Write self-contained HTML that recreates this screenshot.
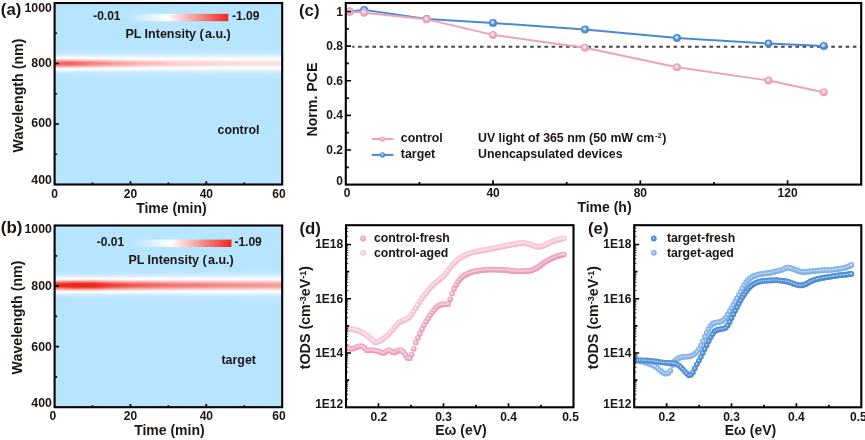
<!DOCTYPE html>
<html><head><meta charset="utf-8"><title>Figure</title>
<style>html,body{margin:0;padding:0;background:#fff}svg{display:block}text{white-space:pre}</style>
</head><body>
<svg width="865" height="440" viewBox="0 0 865 440">
<defs><linearGradient id="ga1" x1="0" x2="1" y1="0" y2="0"><stop offset="0" stop-color="#b7e4fe"/><stop offset="0.08" stop-color="#b7e4fe"/><stop offset="0.17" stop-color="#b7e4fe"/><stop offset="0.25" stop-color="#b7e4fe"/><stop offset="0.33" stop-color="#b7e4fe"/><stop offset="0.42" stop-color="#b7e4fe"/><stop offset="0.5" stop-color="#b7e4fe"/><stop offset="0.58" stop-color="#b7e4fe"/><stop offset="0.67" stop-color="#b7e4fe"/><stop offset="0.75" stop-color="#b7e4fe"/><stop offset="0.83" stop-color="#b7e4fe"/><stop offset="0.92" stop-color="#b7e4fe"/><stop offset="1" stop-color="#b7e4fe"/></linearGradient><linearGradient id="ga2" x1="0" x2="1" y1="0" y2="0"><stop offset="0" stop-color="#b7e4fe"/><stop offset="0.08" stop-color="#b7e4fe"/><stop offset="0.17" stop-color="#b7e4fe"/><stop offset="0.25" stop-color="#b7e4fe"/><stop offset="0.33" stop-color="#b7e4fe"/><stop offset="0.42" stop-color="#b7e4fe"/><stop offset="0.5" stop-color="#b7e4fe"/><stop offset="0.58" stop-color="#b7e4fe"/><stop offset="0.67" stop-color="#b7e4fe"/><stop offset="0.75" stop-color="#b7e4fe"/><stop offset="0.83" stop-color="#b7e4fe"/><stop offset="0.92" stop-color="#b7e4fe"/><stop offset="1" stop-color="#b7e4fe"/></linearGradient><linearGradient id="ga3" x1="0" x2="1" y1="0" y2="0"><stop offset="0" stop-color="#b7e4fe"/><stop offset="0.08" stop-color="#b7e4fe"/><stop offset="0.17" stop-color="#b7e4fe"/><stop offset="0.25" stop-color="#b7e4fe"/><stop offset="0.33" stop-color="#b7e4fe"/><stop offset="0.42" stop-color="#b7e4fe"/><stop offset="0.5" stop-color="#b7e4fe"/><stop offset="0.58" stop-color="#b7e4fe"/><stop offset="0.67" stop-color="#b7e4fe"/><stop offset="0.75" stop-color="#b7e4fe"/><stop offset="0.83" stop-color="#b7e4fe"/><stop offset="0.92" stop-color="#b7e4fe"/><stop offset="1" stop-color="#b7e4fe"/></linearGradient><linearGradient id="ga4" x1="0" x2="1" y1="0" y2="0"><stop offset="0" stop-color="#b7e4fe"/><stop offset="0.08" stop-color="#b7e4fe"/><stop offset="0.17" stop-color="#b7e4fe"/><stop offset="0.25" stop-color="#b7e4fe"/><stop offset="0.33" stop-color="#b7e4fe"/><stop offset="0.42" stop-color="#b7e4fe"/><stop offset="0.5" stop-color="#b7e4fe"/><stop offset="0.58" stop-color="#b7e4fe"/><stop offset="0.67" stop-color="#b7e4fe"/><stop offset="0.75" stop-color="#b7e4fe"/><stop offset="0.83" stop-color="#b7e4fe"/><stop offset="0.92" stop-color="#b7e4fe"/><stop offset="1" stop-color="#b7e4fe"/></linearGradient><linearGradient id="ga5" x1="0" x2="1" y1="0" y2="0"><stop offset="0" stop-color="#b7e4fe"/><stop offset="0.08" stop-color="#b7e4fe"/><stop offset="0.17" stop-color="#b7e4fe"/><stop offset="0.25" stop-color="#b7e4fe"/><stop offset="0.33" stop-color="#b7e4fe"/><stop offset="0.42" stop-color="#b7e4fe"/><stop offset="0.5" stop-color="#b7e4fe"/><stop offset="0.58" stop-color="#b7e4fe"/><stop offset="0.67" stop-color="#b7e4fe"/><stop offset="0.75" stop-color="#b7e4fe"/><stop offset="0.83" stop-color="#b7e4fe"/><stop offset="0.92" stop-color="#b7e4fe"/><stop offset="1" stop-color="#b7e4fe"/></linearGradient><linearGradient id="ga6" x1="0" x2="1" y1="0" y2="0"><stop offset="0" stop-color="#b7e4fe"/><stop offset="0.08" stop-color="#b7e4fe"/><stop offset="0.17" stop-color="#b7e4fe"/><stop offset="0.25" stop-color="#b7e4fe"/><stop offset="0.33" stop-color="#b7e4fe"/><stop offset="0.42" stop-color="#b7e4fe"/><stop offset="0.5" stop-color="#b7e4fe"/><stop offset="0.58" stop-color="#b7e4fe"/><stop offset="0.67" stop-color="#b7e4fe"/><stop offset="0.75" stop-color="#b7e4fe"/><stop offset="0.83" stop-color="#b7e4fe"/><stop offset="0.92" stop-color="#b8e4fe"/><stop offset="1" stop-color="#b8e4fe"/></linearGradient><linearGradient id="ga7" x1="0" x2="1" y1="0" y2="0"><stop offset="0" stop-color="#b7e4fe"/><stop offset="0.08" stop-color="#b7e4fe"/><stop offset="0.17" stop-color="#b7e4fe"/><stop offset="0.25" stop-color="#b7e4fe"/><stop offset="0.33" stop-color="#b7e4fe"/><stop offset="0.42" stop-color="#b7e4fe"/><stop offset="0.5" stop-color="#b8e4fe"/><stop offset="0.58" stop-color="#b8e4fe"/><stop offset="0.67" stop-color="#b8e4fe"/><stop offset="0.75" stop-color="#b8e4fe"/><stop offset="0.83" stop-color="#b8e4fe"/><stop offset="0.92" stop-color="#b8e4fe"/><stop offset="1" stop-color="#b8e4fe"/></linearGradient><linearGradient id="ga8" x1="0" x2="1" y1="0" y2="0"><stop offset="0" stop-color="#b7e4fe"/><stop offset="0.08" stop-color="#b8e4fe"/><stop offset="0.17" stop-color="#b8e4fe"/><stop offset="0.25" stop-color="#b8e4fe"/><stop offset="0.33" stop-color="#b8e4fe"/><stop offset="0.42" stop-color="#b8e4fe"/><stop offset="0.5" stop-color="#b8e4fe"/><stop offset="0.58" stop-color="#b8e4fe"/><stop offset="0.67" stop-color="#b8e4fe"/><stop offset="0.75" stop-color="#b8e5fe"/><stop offset="0.83" stop-color="#b9e5fe"/><stop offset="0.92" stop-color="#b9e5fe"/><stop offset="1" stop-color="#b9e5fe"/></linearGradient><linearGradient id="ga9" x1="0" x2="1" y1="0" y2="0"><stop offset="0" stop-color="#b8e4fe"/><stop offset="0.08" stop-color="#b8e4fe"/><stop offset="0.17" stop-color="#b8e4fe"/><stop offset="0.25" stop-color="#b8e5fe"/><stop offset="0.33" stop-color="#b9e5fe"/><stop offset="0.42" stop-color="#b9e5fe"/><stop offset="0.5" stop-color="#b9e5fe"/><stop offset="0.58" stop-color="#b9e5fe"/><stop offset="0.67" stop-color="#b9e5fe"/><stop offset="0.75" stop-color="#b9e5fe"/><stop offset="0.83" stop-color="#bae5fe"/><stop offset="0.92" stop-color="#bae5fe"/><stop offset="1" stop-color="#bae5fe"/></linearGradient><linearGradient id="ga10" x1="0" x2="1" y1="0" y2="0"><stop offset="0" stop-color="#b9e5fe"/><stop offset="0.08" stop-color="#b9e5fe"/><stop offset="0.17" stop-color="#bae5fe"/><stop offset="0.25" stop-color="#bae5fe"/><stop offset="0.33" stop-color="#bae5fe"/><stop offset="0.42" stop-color="#bae5fe"/><stop offset="0.5" stop-color="#bae5fe"/><stop offset="0.58" stop-color="#bae5fe"/><stop offset="0.67" stop-color="#bbe5fe"/><stop offset="0.75" stop-color="#bbe6fe"/><stop offset="0.83" stop-color="#bbe6fe"/><stop offset="0.92" stop-color="#bce6fe"/><stop offset="1" stop-color="#bce6fe"/></linearGradient><linearGradient id="ga11" x1="0" x2="1" y1="0" y2="0"><stop offset="0" stop-color="#bbe5fe"/><stop offset="0.08" stop-color="#bbe6fe"/><stop offset="0.17" stop-color="#bce6fe"/><stop offset="0.25" stop-color="#bce6fe"/><stop offset="0.33" stop-color="#bce6fe"/><stop offset="0.42" stop-color="#bce6fe"/><stop offset="0.5" stop-color="#bce6fe"/><stop offset="0.58" stop-color="#bde6fe"/><stop offset="0.67" stop-color="#bde6fe"/><stop offset="0.75" stop-color="#bee6fe"/><stop offset="0.83" stop-color="#bee7fe"/><stop offset="0.92" stop-color="#bee7fe"/><stop offset="1" stop-color="#bfe7fe"/></linearGradient><linearGradient id="ga12" x1="0" x2="1" y1="0" y2="0"><stop offset="0" stop-color="#bee7fe"/><stop offset="0.08" stop-color="#bfe7fe"/><stop offset="0.17" stop-color="#bfe7fe"/><stop offset="0.25" stop-color="#bfe7fe"/><stop offset="0.33" stop-color="#bfe7fe"/><stop offset="0.42" stop-color="#c0e7fe"/><stop offset="0.5" stop-color="#c0e7fe"/><stop offset="0.58" stop-color="#c0e7fe"/><stop offset="0.67" stop-color="#c1e8fe"/><stop offset="0.75" stop-color="#c1e8fe"/><stop offset="0.83" stop-color="#c2e8fe"/><stop offset="0.92" stop-color="#c2e8fe"/><stop offset="1" stop-color="#c3e8fe"/></linearGradient><linearGradient id="ga13" x1="0" x2="1" y1="0" y2="0"><stop offset="0" stop-color="#c3e9fe"/><stop offset="0.08" stop-color="#c4e9fe"/><stop offset="0.17" stop-color="#c4e9fe"/><stop offset="0.25" stop-color="#c4e9fe"/><stop offset="0.33" stop-color="#c5e9fe"/><stop offset="0.42" stop-color="#c5e9fe"/><stop offset="0.5" stop-color="#c5e9fe"/><stop offset="0.58" stop-color="#c5e9fe"/><stop offset="0.67" stop-color="#c6eafe"/><stop offset="0.75" stop-color="#c6eafe"/><stop offset="0.83" stop-color="#c7eafe"/><stop offset="0.92" stop-color="#c7eafe"/><stop offset="1" stop-color="#c8eafe"/></linearGradient><linearGradient id="ga14" x1="0" x2="1" y1="0" y2="0"><stop offset="0" stop-color="#cbecfe"/><stop offset="0.08" stop-color="#ccecfe"/><stop offset="0.17" stop-color="#ccecfe"/><stop offset="0.25" stop-color="#ccecfe"/><stop offset="0.33" stop-color="#ccecfe"/><stop offset="0.42" stop-color="#ccecfe"/><stop offset="0.5" stop-color="#ccecfe"/><stop offset="0.58" stop-color="#ccecfe"/><stop offset="0.67" stop-color="#cdecfe"/><stop offset="0.75" stop-color="#cdecfe"/><stop offset="0.83" stop-color="#ceecfe"/><stop offset="0.92" stop-color="#ceedfe"/><stop offset="1" stop-color="#cfedfe"/></linearGradient><linearGradient id="ga15" x1="0" x2="1" y1="0" y2="0"><stop offset="0" stop-color="#d6f0fe"/><stop offset="0.08" stop-color="#d8f0fe"/><stop offset="0.17" stop-color="#d7f0fe"/><stop offset="0.25" stop-color="#d6f0fe"/><stop offset="0.33" stop-color="#d6effe"/><stop offset="0.42" stop-color="#d5effe"/><stop offset="0.5" stop-color="#d5effe"/><stop offset="0.58" stop-color="#d5effe"/><stop offset="0.67" stop-color="#d5effe"/><stop offset="0.75" stop-color="#d6f0fe"/><stop offset="0.83" stop-color="#d6f0fe"/><stop offset="0.92" stop-color="#d7f0fe"/><stop offset="1" stop-color="#d7f0fe"/></linearGradient><linearGradient id="ga16" x1="0" x2="1" y1="0" y2="0"><stop offset="0" stop-color="#e5f5ff"/><stop offset="0.08" stop-color="#e7f6ff"/><stop offset="0.17" stop-color="#e5f5ff"/><stop offset="0.25" stop-color="#e3f5ff"/><stop offset="0.33" stop-color="#e2f4ff"/><stop offset="0.42" stop-color="#e1f4ff"/><stop offset="0.5" stop-color="#e0f3ff"/><stop offset="0.58" stop-color="#e0f3ff"/><stop offset="0.67" stop-color="#e0f3ff"/><stop offset="0.75" stop-color="#e0f3ff"/><stop offset="0.83" stop-color="#e0f4ff"/><stop offset="0.92" stop-color="#e1f4ff"/><stop offset="1" stop-color="#e1f4ff"/></linearGradient><linearGradient id="ga17" x1="0" x2="1" y1="0" y2="0"><stop offset="0" stop-color="#f7fcff"/><stop offset="0.08" stop-color="#f9fdff"/><stop offset="0.17" stop-color="#f6fcff"/><stop offset="0.25" stop-color="#f3fbff"/><stop offset="0.33" stop-color="#f1faff"/><stop offset="0.42" stop-color="#eef9ff"/><stop offset="0.5" stop-color="#edf8ff"/><stop offset="0.58" stop-color="#ecf8ff"/><stop offset="0.67" stop-color="#ecf8ff"/><stop offset="0.75" stop-color="#ecf8ff"/><stop offset="0.83" stop-color="#ecf8ff"/><stop offset="0.92" stop-color="#ecf8ff"/><stop offset="1" stop-color="#ecf8ff"/></linearGradient><linearGradient id="ga18" x1="0" x2="1" y1="0" y2="0"><stop offset="0" stop-color="#fef5f5"/><stop offset="0.08" stop-color="#fef4f4"/><stop offset="0.17" stop-color="#fef8f8"/><stop offset="0.25" stop-color="#fffcfc"/><stop offset="0.33" stop-color="#fffefe"/><stop offset="0.42" stop-color="#fdfeff"/><stop offset="0.5" stop-color="#fbfeff"/><stop offset="0.58" stop-color="#fafdff"/><stop offset="0.67" stop-color="#f9fdff"/><stop offset="0.75" stop-color="#f9fdff"/><stop offset="0.83" stop-color="#f8fcff"/><stop offset="0.92" stop-color="#f8fcff"/><stop offset="1" stop-color="#f8fcff"/></linearGradient><linearGradient id="ga19" x1="0" x2="1" y1="0" y2="0"><stop offset="0" stop-color="#fcd5d4"/><stop offset="0.08" stop-color="#fcd5d4"/><stop offset="0.17" stop-color="#fcdfde"/><stop offset="0.25" stop-color="#fde8e7"/><stop offset="0.33" stop-color="#feefef"/><stop offset="0.42" stop-color="#fef5f4"/><stop offset="0.5" stop-color="#fef8f8"/><stop offset="0.58" stop-color="#fffafa"/><stop offset="0.67" stop-color="#fffbfb"/><stop offset="0.75" stop-color="#fffcfc"/><stop offset="0.83" stop-color="#fffdfc"/><stop offset="0.92" stop-color="#fffdfd"/><stop offset="1" stop-color="#fffdfd"/></linearGradient><linearGradient id="ga20" x1="0" x2="1" y1="0" y2="0"><stop offset="0" stop-color="#f9adab"/><stop offset="0.08" stop-color="#f9aeac"/><stop offset="0.17" stop-color="#fabebd"/><stop offset="0.25" stop-color="#fbcdcc"/><stop offset="0.33" stop-color="#fcd9d8"/><stop offset="0.42" stop-color="#fde2e1"/><stop offset="0.5" stop-color="#fde8e8"/><stop offset="0.58" stop-color="#feecec"/><stop offset="0.67" stop-color="#feefee"/><stop offset="0.75" stop-color="#fef0f0"/><stop offset="0.83" stop-color="#fef2f2"/><stop offset="0.92" stop-color="#fef3f3"/><stop offset="1" stop-color="#fef4f4"/></linearGradient><linearGradient id="ga21" x1="0" x2="1" y1="0" y2="0"><stop offset="0" stop-color="#f68682"/><stop offset="0.08" stop-color="#f68985"/><stop offset="0.17" stop-color="#f79f9c"/><stop offset="0.25" stop-color="#f9b2b0"/><stop offset="0.33" stop-color="#fac2c0"/><stop offset="0.42" stop-color="#fbcfce"/><stop offset="0.5" stop-color="#fcd8d7"/><stop offset="0.58" stop-color="#fcdddd"/><stop offset="0.67" stop-color="#fde1e0"/><stop offset="0.75" stop-color="#fde4e4"/><stop offset="0.83" stop-color="#fde7e6"/><stop offset="0.92" stop-color="#fde9e8"/><stop offset="1" stop-color="#fdebea"/></linearGradient><linearGradient id="ga22" x1="0" x2="1" y1="0" y2="0"><stop offset="0" stop-color="#f36965"/><stop offset="0.08" stop-color="#f46d69"/><stop offset="0.17" stop-color="#f68884"/><stop offset="0.25" stop-color="#f79f9c"/><stop offset="0.33" stop-color="#f9b2b0"/><stop offset="0.42" stop-color="#fac2c0"/><stop offset="0.5" stop-color="#fbcccb"/><stop offset="0.58" stop-color="#fcd3d2"/><stop offset="0.67" stop-color="#fcd7d6"/><stop offset="0.75" stop-color="#fcdbda"/><stop offset="0.83" stop-color="#fcdfde"/><stop offset="0.92" stop-color="#fde1e0"/><stop offset="1" stop-color="#fde3e3"/></linearGradient><linearGradient id="ga23" x1="0" x2="1" y1="0" y2="0"><stop offset="0" stop-color="#f25f5a"/><stop offset="0.08" stop-color="#f3635f"/><stop offset="0.17" stop-color="#f57f7c"/><stop offset="0.25" stop-color="#f79895"/><stop offset="0.33" stop-color="#f8acaa"/><stop offset="0.42" stop-color="#fabdbb"/><stop offset="0.5" stop-color="#fbc8c6"/><stop offset="0.58" stop-color="#fbcfcd"/><stop offset="0.67" stop-color="#fcd4d3"/><stop offset="0.75" stop-color="#fcd8d7"/><stop offset="0.83" stop-color="#fcdbda"/><stop offset="0.92" stop-color="#fcdede"/><stop offset="1" stop-color="#fde1e0"/></linearGradient><linearGradient id="ga24" x1="0" x2="1" y1="0" y2="0"><stop offset="0" stop-color="#f36965"/><stop offset="0.08" stop-color="#f46d69"/><stop offset="0.17" stop-color="#f68884"/><stop offset="0.25" stop-color="#f79f9c"/><stop offset="0.33" stop-color="#f9b2b0"/><stop offset="0.42" stop-color="#fac2c0"/><stop offset="0.5" stop-color="#fbcccb"/><stop offset="0.58" stop-color="#fcd3d2"/><stop offset="0.67" stop-color="#fcd7d6"/><stop offset="0.75" stop-color="#fcdbda"/><stop offset="0.83" stop-color="#fcdfde"/><stop offset="0.92" stop-color="#fde1e0"/><stop offset="1" stop-color="#fde3e3"/></linearGradient><linearGradient id="ga25" x1="0" x2="1" y1="0" y2="0"><stop offset="0" stop-color="#f68682"/><stop offset="0.08" stop-color="#f68985"/><stop offset="0.17" stop-color="#f79f9c"/><stop offset="0.25" stop-color="#f9b2b0"/><stop offset="0.33" stop-color="#fac2c0"/><stop offset="0.42" stop-color="#fbcfce"/><stop offset="0.5" stop-color="#fcd8d7"/><stop offset="0.58" stop-color="#fcdddd"/><stop offset="0.67" stop-color="#fde1e0"/><stop offset="0.75" stop-color="#fde4e4"/><stop offset="0.83" stop-color="#fde7e6"/><stop offset="0.92" stop-color="#fde9e8"/><stop offset="1" stop-color="#fdebea"/></linearGradient><linearGradient id="ga26" x1="0" x2="1" y1="0" y2="0"><stop offset="0" stop-color="#f9adab"/><stop offset="0.08" stop-color="#f9aeac"/><stop offset="0.17" stop-color="#fabebd"/><stop offset="0.25" stop-color="#fbcdcc"/><stop offset="0.33" stop-color="#fcd9d8"/><stop offset="0.42" stop-color="#fde2e1"/><stop offset="0.5" stop-color="#fde8e8"/><stop offset="0.58" stop-color="#feecec"/><stop offset="0.67" stop-color="#feefee"/><stop offset="0.75" stop-color="#fef0f0"/><stop offset="0.83" stop-color="#fef2f2"/><stop offset="0.92" stop-color="#fef3f3"/><stop offset="1" stop-color="#fef4f4"/></linearGradient><linearGradient id="ga27" x1="0" x2="1" y1="0" y2="0"><stop offset="0" stop-color="#fcd5d4"/><stop offset="0.08" stop-color="#fcd5d4"/><stop offset="0.17" stop-color="#fcdfde"/><stop offset="0.25" stop-color="#fde8e7"/><stop offset="0.33" stop-color="#feefef"/><stop offset="0.42" stop-color="#fef5f4"/><stop offset="0.5" stop-color="#fef8f8"/><stop offset="0.58" stop-color="#fffafa"/><stop offset="0.67" stop-color="#fffbfb"/><stop offset="0.75" stop-color="#fffcfc"/><stop offset="0.83" stop-color="#fffdfc"/><stop offset="0.92" stop-color="#fffdfd"/><stop offset="1" stop-color="#fffdfd"/></linearGradient><linearGradient id="ga28" x1="0" x2="1" y1="0" y2="0"><stop offset="0" stop-color="#fef5f5"/><stop offset="0.08" stop-color="#fef4f4"/><stop offset="0.17" stop-color="#fef8f8"/><stop offset="0.25" stop-color="#fffcfc"/><stop offset="0.33" stop-color="#fffefe"/><stop offset="0.42" stop-color="#fdfeff"/><stop offset="0.5" stop-color="#fbfeff"/><stop offset="0.58" stop-color="#fafdff"/><stop offset="0.67" stop-color="#f9fdff"/><stop offset="0.75" stop-color="#f9fdff"/><stop offset="0.83" stop-color="#f8fcff"/><stop offset="0.92" stop-color="#f8fcff"/><stop offset="1" stop-color="#f8fcff"/></linearGradient><linearGradient id="ga29" x1="0" x2="1" y1="0" y2="0"><stop offset="0" stop-color="#f7fcff"/><stop offset="0.08" stop-color="#f9fdff"/><stop offset="0.17" stop-color="#f6fcff"/><stop offset="0.25" stop-color="#f3fbff"/><stop offset="0.33" stop-color="#f1faff"/><stop offset="0.42" stop-color="#eef9ff"/><stop offset="0.5" stop-color="#edf8ff"/><stop offset="0.58" stop-color="#ecf8ff"/><stop offset="0.67" stop-color="#ecf8ff"/><stop offset="0.75" stop-color="#ecf8ff"/><stop offset="0.83" stop-color="#ecf8ff"/><stop offset="0.92" stop-color="#ecf8ff"/><stop offset="1" stop-color="#ecf8ff"/></linearGradient><linearGradient id="ga30" x1="0" x2="1" y1="0" y2="0"><stop offset="0" stop-color="#e5f5ff"/><stop offset="0.08" stop-color="#e7f6ff"/><stop offset="0.17" stop-color="#e5f5ff"/><stop offset="0.25" stop-color="#e3f5ff"/><stop offset="0.33" stop-color="#e2f4ff"/><stop offset="0.42" stop-color="#e1f4ff"/><stop offset="0.5" stop-color="#e0f3ff"/><stop offset="0.58" stop-color="#e0f3ff"/><stop offset="0.67" stop-color="#e0f3ff"/><stop offset="0.75" stop-color="#e0f3ff"/><stop offset="0.83" stop-color="#e0f4ff"/><stop offset="0.92" stop-color="#e1f4ff"/><stop offset="1" stop-color="#e1f4ff"/></linearGradient><linearGradient id="ga31" x1="0" x2="1" y1="0" y2="0"><stop offset="0" stop-color="#d6f0fe"/><stop offset="0.08" stop-color="#d8f0fe"/><stop offset="0.17" stop-color="#d7f0fe"/><stop offset="0.25" stop-color="#d6f0fe"/><stop offset="0.33" stop-color="#d6effe"/><stop offset="0.42" stop-color="#d5effe"/><stop offset="0.5" stop-color="#d5effe"/><stop offset="0.58" stop-color="#d5effe"/><stop offset="0.67" stop-color="#d5effe"/><stop offset="0.75" stop-color="#d6f0fe"/><stop offset="0.83" stop-color="#d6f0fe"/><stop offset="0.92" stop-color="#d7f0fe"/><stop offset="1" stop-color="#d7f0fe"/></linearGradient><linearGradient id="ga32" x1="0" x2="1" y1="0" y2="0"><stop offset="0" stop-color="#cbecfe"/><stop offset="0.08" stop-color="#ccecfe"/><stop offset="0.17" stop-color="#ccecfe"/><stop offset="0.25" stop-color="#ccecfe"/><stop offset="0.33" stop-color="#ccecfe"/><stop offset="0.42" stop-color="#ccecfe"/><stop offset="0.5" stop-color="#ccecfe"/><stop offset="0.58" stop-color="#ccecfe"/><stop offset="0.67" stop-color="#cdecfe"/><stop offset="0.75" stop-color="#cdecfe"/><stop offset="0.83" stop-color="#ceecfe"/><stop offset="0.92" stop-color="#ceedfe"/><stop offset="1" stop-color="#cfedfe"/></linearGradient><linearGradient id="ga33" x1="0" x2="1" y1="0" y2="0"><stop offset="0" stop-color="#c3e9fe"/><stop offset="0.08" stop-color="#c4e9fe"/><stop offset="0.17" stop-color="#c4e9fe"/><stop offset="0.25" stop-color="#c4e9fe"/><stop offset="0.33" stop-color="#c5e9fe"/><stop offset="0.42" stop-color="#c5e9fe"/><stop offset="0.5" stop-color="#c5e9fe"/><stop offset="0.58" stop-color="#c5e9fe"/><stop offset="0.67" stop-color="#c6eafe"/><stop offset="0.75" stop-color="#c6eafe"/><stop offset="0.83" stop-color="#c7eafe"/><stop offset="0.92" stop-color="#c7eafe"/><stop offset="1" stop-color="#c8eafe"/></linearGradient><linearGradient id="ga34" x1="0" x2="1" y1="0" y2="0"><stop offset="0" stop-color="#bee7fe"/><stop offset="0.08" stop-color="#bfe7fe"/><stop offset="0.17" stop-color="#bfe7fe"/><stop offset="0.25" stop-color="#bfe7fe"/><stop offset="0.33" stop-color="#bfe7fe"/><stop offset="0.42" stop-color="#c0e7fe"/><stop offset="0.5" stop-color="#c0e7fe"/><stop offset="0.58" stop-color="#c0e7fe"/><stop offset="0.67" stop-color="#c1e8fe"/><stop offset="0.75" stop-color="#c1e8fe"/><stop offset="0.83" stop-color="#c2e8fe"/><stop offset="0.92" stop-color="#c2e8fe"/><stop offset="1" stop-color="#c3e8fe"/></linearGradient><linearGradient id="ga35" x1="0" x2="1" y1="0" y2="0"><stop offset="0" stop-color="#bbe5fe"/><stop offset="0.08" stop-color="#bbe6fe"/><stop offset="0.17" stop-color="#bce6fe"/><stop offset="0.25" stop-color="#bce6fe"/><stop offset="0.33" stop-color="#bce6fe"/><stop offset="0.42" stop-color="#bce6fe"/><stop offset="0.5" stop-color="#bce6fe"/><stop offset="0.58" stop-color="#bde6fe"/><stop offset="0.67" stop-color="#bde6fe"/><stop offset="0.75" stop-color="#bee6fe"/><stop offset="0.83" stop-color="#bee7fe"/><stop offset="0.92" stop-color="#bee7fe"/><stop offset="1" stop-color="#bfe7fe"/></linearGradient><linearGradient id="ga36" x1="0" x2="1" y1="0" y2="0"><stop offset="0" stop-color="#b9e5fe"/><stop offset="0.08" stop-color="#b9e5fe"/><stop offset="0.17" stop-color="#bae5fe"/><stop offset="0.25" stop-color="#bae5fe"/><stop offset="0.33" stop-color="#bae5fe"/><stop offset="0.42" stop-color="#bae5fe"/><stop offset="0.5" stop-color="#bae5fe"/><stop offset="0.58" stop-color="#bae5fe"/><stop offset="0.67" stop-color="#bbe5fe"/><stop offset="0.75" stop-color="#bbe6fe"/><stop offset="0.83" stop-color="#bbe6fe"/><stop offset="0.92" stop-color="#bce6fe"/><stop offset="1" stop-color="#bce6fe"/></linearGradient><linearGradient id="ga37" x1="0" x2="1" y1="0" y2="0"><stop offset="0" stop-color="#b8e4fe"/><stop offset="0.08" stop-color="#b8e4fe"/><stop offset="0.17" stop-color="#b8e4fe"/><stop offset="0.25" stop-color="#b8e5fe"/><stop offset="0.33" stop-color="#b9e5fe"/><stop offset="0.42" stop-color="#b9e5fe"/><stop offset="0.5" stop-color="#b9e5fe"/><stop offset="0.58" stop-color="#b9e5fe"/><stop offset="0.67" stop-color="#b9e5fe"/><stop offset="0.75" stop-color="#b9e5fe"/><stop offset="0.83" stop-color="#bae5fe"/><stop offset="0.92" stop-color="#bae5fe"/><stop offset="1" stop-color="#bae5fe"/></linearGradient><linearGradient id="ga38" x1="0" x2="1" y1="0" y2="0"><stop offset="0" stop-color="#b7e4fe"/><stop offset="0.08" stop-color="#b8e4fe"/><stop offset="0.17" stop-color="#b8e4fe"/><stop offset="0.25" stop-color="#b8e4fe"/><stop offset="0.33" stop-color="#b8e4fe"/><stop offset="0.42" stop-color="#b8e4fe"/><stop offset="0.5" stop-color="#b8e4fe"/><stop offset="0.58" stop-color="#b8e4fe"/><stop offset="0.67" stop-color="#b8e4fe"/><stop offset="0.75" stop-color="#b8e5fe"/><stop offset="0.83" stop-color="#b9e5fe"/><stop offset="0.92" stop-color="#b9e5fe"/><stop offset="1" stop-color="#b9e5fe"/></linearGradient><linearGradient id="ga39" x1="0" x2="1" y1="0" y2="0"><stop offset="0" stop-color="#b7e4fe"/><stop offset="0.08" stop-color="#b7e4fe"/><stop offset="0.17" stop-color="#b7e4fe"/><stop offset="0.25" stop-color="#b7e4fe"/><stop offset="0.33" stop-color="#b7e4fe"/><stop offset="0.42" stop-color="#b7e4fe"/><stop offset="0.5" stop-color="#b8e4fe"/><stop offset="0.58" stop-color="#b8e4fe"/><stop offset="0.67" stop-color="#b8e4fe"/><stop offset="0.75" stop-color="#b8e4fe"/><stop offset="0.83" stop-color="#b8e4fe"/><stop offset="0.92" stop-color="#b8e4fe"/><stop offset="1" stop-color="#b8e4fe"/></linearGradient><linearGradient id="ga40" x1="0" x2="1" y1="0" y2="0"><stop offset="0" stop-color="#b7e4fe"/><stop offset="0.08" stop-color="#b7e4fe"/><stop offset="0.17" stop-color="#b7e4fe"/><stop offset="0.25" stop-color="#b7e4fe"/><stop offset="0.33" stop-color="#b7e4fe"/><stop offset="0.42" stop-color="#b7e4fe"/><stop offset="0.5" stop-color="#b7e4fe"/><stop offset="0.58" stop-color="#b7e4fe"/><stop offset="0.67" stop-color="#b7e4fe"/><stop offset="0.75" stop-color="#b7e4fe"/><stop offset="0.83" stop-color="#b7e4fe"/><stop offset="0.92" stop-color="#b8e4fe"/><stop offset="1" stop-color="#b8e4fe"/></linearGradient><linearGradient id="ga41" x1="0" x2="1" y1="0" y2="0"><stop offset="0" stop-color="#b7e4fe"/><stop offset="0.08" stop-color="#b7e4fe"/><stop offset="0.17" stop-color="#b7e4fe"/><stop offset="0.25" stop-color="#b7e4fe"/><stop offset="0.33" stop-color="#b7e4fe"/><stop offset="0.42" stop-color="#b7e4fe"/><stop offset="0.5" stop-color="#b7e4fe"/><stop offset="0.58" stop-color="#b7e4fe"/><stop offset="0.67" stop-color="#b7e4fe"/><stop offset="0.75" stop-color="#b7e4fe"/><stop offset="0.83" stop-color="#b7e4fe"/><stop offset="0.92" stop-color="#b7e4fe"/><stop offset="1" stop-color="#b7e4fe"/></linearGradient><linearGradient id="ga42" x1="0" x2="1" y1="0" y2="0"><stop offset="0" stop-color="#b7e4fe"/><stop offset="0.08" stop-color="#b7e4fe"/><stop offset="0.17" stop-color="#b7e4fe"/><stop offset="0.25" stop-color="#b7e4fe"/><stop offset="0.33" stop-color="#b7e4fe"/><stop offset="0.42" stop-color="#b7e4fe"/><stop offset="0.5" stop-color="#b7e4fe"/><stop offset="0.58" stop-color="#b7e4fe"/><stop offset="0.67" stop-color="#b7e4fe"/><stop offset="0.75" stop-color="#b7e4fe"/><stop offset="0.83" stop-color="#b7e4fe"/><stop offset="0.92" stop-color="#b7e4fe"/><stop offset="1" stop-color="#b7e4fe"/></linearGradient><linearGradient id="ga43" x1="0" x2="1" y1="0" y2="0"><stop offset="0" stop-color="#b7e4fe"/><stop offset="0.08" stop-color="#b7e4fe"/><stop offset="0.17" stop-color="#b7e4fe"/><stop offset="0.25" stop-color="#b7e4fe"/><stop offset="0.33" stop-color="#b7e4fe"/><stop offset="0.42" stop-color="#b7e4fe"/><stop offset="0.5" stop-color="#b7e4fe"/><stop offset="0.58" stop-color="#b7e4fe"/><stop offset="0.67" stop-color="#b7e4fe"/><stop offset="0.75" stop-color="#b7e4fe"/><stop offset="0.83" stop-color="#b7e4fe"/><stop offset="0.92" stop-color="#b7e4fe"/><stop offset="1" stop-color="#b7e4fe"/></linearGradient><linearGradient id="ga44" x1="0" x2="1" y1="0" y2="0"><stop offset="0" stop-color="#b7e4fe"/><stop offset="0.08" stop-color="#b7e4fe"/><stop offset="0.17" stop-color="#b7e4fe"/><stop offset="0.25" stop-color="#b7e4fe"/><stop offset="0.33" stop-color="#b7e4fe"/><stop offset="0.42" stop-color="#b7e4fe"/><stop offset="0.5" stop-color="#b7e4fe"/><stop offset="0.58" stop-color="#b7e4fe"/><stop offset="0.67" stop-color="#b7e4fe"/><stop offset="0.75" stop-color="#b7e4fe"/><stop offset="0.83" stop-color="#b7e4fe"/><stop offset="0.92" stop-color="#b7e4fe"/><stop offset="1" stop-color="#b7e4fe"/></linearGradient><linearGradient id="ga45" x1="0" x2="1" y1="0" y2="0"><stop offset="0" stop-color="#b7e4fe"/><stop offset="0.08" stop-color="#b7e4fe"/><stop offset="0.17" stop-color="#b7e4fe"/><stop offset="0.25" stop-color="#b7e4fe"/><stop offset="0.33" stop-color="#b7e4fe"/><stop offset="0.42" stop-color="#b7e4fe"/><stop offset="0.5" stop-color="#b7e4fe"/><stop offset="0.58" stop-color="#b7e4fe"/><stop offset="0.67" stop-color="#b7e4fe"/><stop offset="0.75" stop-color="#b7e4fe"/><stop offset="0.83" stop-color="#b7e4fe"/><stop offset="0.92" stop-color="#b7e4fe"/><stop offset="1" stop-color="#b7e4fe"/></linearGradient><linearGradient id="cb46" x1="0" x2="1" y1="0" y2="0"><stop offset="0" stop-color="#b7e4fe"/><stop offset="0.05" stop-color="#c0e7fe"/><stop offset="0.39" stop-color="#ffffff"/><stop offset="0.7" stop-color="#f6918e"/><stop offset="1" stop-color="#ee2620"/></linearGradient><linearGradient id="gb47" x1="0" x2="1" y1="0" y2="0"><stop offset="0" stop-color="#b7e4fe"/><stop offset="0.08" stop-color="#b7e4fe"/><stop offset="0.17" stop-color="#b7e4fe"/><stop offset="0.25" stop-color="#b7e4fe"/><stop offset="0.33" stop-color="#b7e4fe"/><stop offset="0.42" stop-color="#b7e4fe"/><stop offset="0.5" stop-color="#b7e4fe"/><stop offset="0.58" stop-color="#b7e4fe"/><stop offset="0.67" stop-color="#b7e4fe"/><stop offset="0.75" stop-color="#b7e4fe"/><stop offset="0.83" stop-color="#b7e4fe"/><stop offset="0.92" stop-color="#b7e4fe"/><stop offset="1" stop-color="#b7e4fe"/></linearGradient><linearGradient id="gb48" x1="0" x2="1" y1="0" y2="0"><stop offset="0" stop-color="#b7e4fe"/><stop offset="0.08" stop-color="#b7e4fe"/><stop offset="0.17" stop-color="#b7e4fe"/><stop offset="0.25" stop-color="#b7e4fe"/><stop offset="0.33" stop-color="#b7e4fe"/><stop offset="0.42" stop-color="#b7e4fe"/><stop offset="0.5" stop-color="#b7e4fe"/><stop offset="0.58" stop-color="#b7e4fe"/><stop offset="0.67" stop-color="#b7e4fe"/><stop offset="0.75" stop-color="#b7e4fe"/><stop offset="0.83" stop-color="#b7e4fe"/><stop offset="0.92" stop-color="#b7e4fe"/><stop offset="1" stop-color="#b7e4fe"/></linearGradient><linearGradient id="gb49" x1="0" x2="1" y1="0" y2="0"><stop offset="0" stop-color="#b7e4fe"/><stop offset="0.08" stop-color="#b7e4fe"/><stop offset="0.17" stop-color="#b7e4fe"/><stop offset="0.25" stop-color="#b7e4fe"/><stop offset="0.33" stop-color="#b7e4fe"/><stop offset="0.42" stop-color="#b7e4fe"/><stop offset="0.5" stop-color="#b7e4fe"/><stop offset="0.58" stop-color="#b7e4fe"/><stop offset="0.67" stop-color="#b7e4fe"/><stop offset="0.75" stop-color="#b7e4fe"/><stop offset="0.83" stop-color="#b7e4fe"/><stop offset="0.92" stop-color="#b7e4fe"/><stop offset="1" stop-color="#b7e4fe"/></linearGradient><linearGradient id="gb50" x1="0" x2="1" y1="0" y2="0"><stop offset="0" stop-color="#b7e4fe"/><stop offset="0.08" stop-color="#b7e4fe"/><stop offset="0.17" stop-color="#b7e4fe"/><stop offset="0.25" stop-color="#b7e4fe"/><stop offset="0.33" stop-color="#b7e4fe"/><stop offset="0.42" stop-color="#b7e4fe"/><stop offset="0.5" stop-color="#b7e4fe"/><stop offset="0.58" stop-color="#b7e4fe"/><stop offset="0.67" stop-color="#b7e4fe"/><stop offset="0.75" stop-color="#b7e4fe"/><stop offset="0.83" stop-color="#b7e4fe"/><stop offset="0.92" stop-color="#b7e4fe"/><stop offset="1" stop-color="#b7e4fe"/></linearGradient><linearGradient id="gb51" x1="0" x2="1" y1="0" y2="0"><stop offset="0" stop-color="#b7e4fe"/><stop offset="0.08" stop-color="#b7e4fe"/><stop offset="0.17" stop-color="#b7e4fe"/><stop offset="0.25" stop-color="#b7e4fe"/><stop offset="0.33" stop-color="#b7e4fe"/><stop offset="0.42" stop-color="#b7e4fe"/><stop offset="0.5" stop-color="#b7e4fe"/><stop offset="0.58" stop-color="#b7e4fe"/><stop offset="0.67" stop-color="#b7e4fe"/><stop offset="0.75" stop-color="#b7e4fe"/><stop offset="0.83" stop-color="#b7e4fe"/><stop offset="0.92" stop-color="#b7e4fe"/><stop offset="1" stop-color="#b7e4fe"/></linearGradient><linearGradient id="gb52" x1="0" x2="1" y1="0" y2="0"><stop offset="0" stop-color="#b7e4fe"/><stop offset="0.08" stop-color="#b7e4fe"/><stop offset="0.17" stop-color="#b7e4fe"/><stop offset="0.25" stop-color="#b7e4fe"/><stop offset="0.33" stop-color="#b7e4fe"/><stop offset="0.42" stop-color="#b7e4fe"/><stop offset="0.5" stop-color="#b7e4fe"/><stop offset="0.58" stop-color="#b7e4fe"/><stop offset="0.67" stop-color="#b7e4fe"/><stop offset="0.75" stop-color="#b8e4fe"/><stop offset="0.83" stop-color="#b8e4fe"/><stop offset="0.92" stop-color="#b8e4fe"/><stop offset="1" stop-color="#b8e4fe"/></linearGradient><linearGradient id="gb53" x1="0" x2="1" y1="0" y2="0"><stop offset="0" stop-color="#b7e4fe"/><stop offset="0.08" stop-color="#b7e4fe"/><stop offset="0.17" stop-color="#b7e4fe"/><stop offset="0.25" stop-color="#b7e4fe"/><stop offset="0.33" stop-color="#b8e4fe"/><stop offset="0.42" stop-color="#b8e4fe"/><stop offset="0.5" stop-color="#b8e4fe"/><stop offset="0.58" stop-color="#b8e4fe"/><stop offset="0.67" stop-color="#b8e4fe"/><stop offset="0.75" stop-color="#b8e4fe"/><stop offset="0.83" stop-color="#b8e4fe"/><stop offset="0.92" stop-color="#b8e4fe"/><stop offset="1" stop-color="#b8e4fe"/></linearGradient><linearGradient id="gb54" x1="0" x2="1" y1="0" y2="0"><stop offset="0" stop-color="#b8e4fe"/><stop offset="0.08" stop-color="#b8e4fe"/><stop offset="0.17" stop-color="#b8e4fe"/><stop offset="0.25" stop-color="#b8e4fe"/><stop offset="0.33" stop-color="#b8e4fe"/><stop offset="0.42" stop-color="#b8e4fe"/><stop offset="0.5" stop-color="#b8e4fe"/><stop offset="0.58" stop-color="#b8e5fe"/><stop offset="0.67" stop-color="#b9e5fe"/><stop offset="0.75" stop-color="#b9e5fe"/><stop offset="0.83" stop-color="#b9e5fe"/><stop offset="0.92" stop-color="#b9e5fe"/><stop offset="1" stop-color="#b9e5fe"/></linearGradient><linearGradient id="gb55" x1="0" x2="1" y1="0" y2="0"><stop offset="0" stop-color="#b8e4fe"/><stop offset="0.08" stop-color="#b9e5fe"/><stop offset="0.17" stop-color="#b9e5fe"/><stop offset="0.25" stop-color="#b9e5fe"/><stop offset="0.33" stop-color="#b9e5fe"/><stop offset="0.42" stop-color="#b9e5fe"/><stop offset="0.5" stop-color="#b9e5fe"/><stop offset="0.58" stop-color="#bae5fe"/><stop offset="0.67" stop-color="#bae5fe"/><stop offset="0.75" stop-color="#bae5fe"/><stop offset="0.83" stop-color="#bae5fe"/><stop offset="0.92" stop-color="#bae5fe"/><stop offset="1" stop-color="#bbe5fe"/></linearGradient><linearGradient id="gb56" x1="0" x2="1" y1="0" y2="0"><stop offset="0" stop-color="#b9e5fe"/><stop offset="0.08" stop-color="#bae5fe"/><stop offset="0.17" stop-color="#bae5fe"/><stop offset="0.25" stop-color="#bae5fe"/><stop offset="0.33" stop-color="#bbe5fe"/><stop offset="0.42" stop-color="#bbe5fe"/><stop offset="0.5" stop-color="#bbe6fe"/><stop offset="0.58" stop-color="#bbe6fe"/><stop offset="0.67" stop-color="#bce6fe"/><stop offset="0.75" stop-color="#bce6fe"/><stop offset="0.83" stop-color="#bce6fe"/><stop offset="0.92" stop-color="#bde6fe"/><stop offset="1" stop-color="#bde6fe"/></linearGradient><linearGradient id="gb57" x1="0" x2="1" y1="0" y2="0"><stop offset="0" stop-color="#bbe6fe"/><stop offset="0.08" stop-color="#bce6fe"/><stop offset="0.17" stop-color="#bde6fe"/><stop offset="0.25" stop-color="#bde6fe"/><stop offset="0.33" stop-color="#bde6fe"/><stop offset="0.42" stop-color="#bde6fe"/><stop offset="0.5" stop-color="#bee7fe"/><stop offset="0.58" stop-color="#bee7fe"/><stop offset="0.67" stop-color="#bee7fe"/><stop offset="0.75" stop-color="#bfe7fe"/><stop offset="0.83" stop-color="#bfe7fe"/><stop offset="0.92" stop-color="#c0e7fe"/><stop offset="1" stop-color="#c0e7fe"/></linearGradient><linearGradient id="gb58" x1="0" x2="1" y1="0" y2="0"><stop offset="0" stop-color="#bfe7fe"/><stop offset="0.08" stop-color="#c0e7fe"/><stop offset="0.17" stop-color="#c1e8fe"/><stop offset="0.25" stop-color="#c1e8fe"/><stop offset="0.33" stop-color="#c1e8fe"/><stop offset="0.42" stop-color="#c1e8fe"/><stop offset="0.5" stop-color="#c2e8fe"/><stop offset="0.58" stop-color="#c2e8fe"/><stop offset="0.67" stop-color="#c3e8fe"/><stop offset="0.75" stop-color="#c3e9fe"/><stop offset="0.83" stop-color="#c4e9fe"/><stop offset="0.92" stop-color="#c4e9fe"/><stop offset="1" stop-color="#c5e9fe"/></linearGradient><linearGradient id="gb59" x1="0" x2="1" y1="0" y2="0"><stop offset="0" stop-color="#c4e9fe"/><stop offset="0.08" stop-color="#c6eafe"/><stop offset="0.17" stop-color="#c7eafe"/><stop offset="0.25" stop-color="#c7eafe"/><stop offset="0.33" stop-color="#c7eafe"/><stop offset="0.42" stop-color="#c7eafe"/><stop offset="0.5" stop-color="#c8eafe"/><stop offset="0.58" stop-color="#c8eafe"/><stop offset="0.67" stop-color="#c9ebfe"/><stop offset="0.75" stop-color="#c9ebfe"/><stop offset="0.83" stop-color="#caebfe"/><stop offset="0.92" stop-color="#caebfe"/><stop offset="1" stop-color="#cbecfe"/></linearGradient><linearGradient id="gb60" x1="0" x2="1" y1="0" y2="0"><stop offset="0" stop-color="#ccecfe"/><stop offset="0.08" stop-color="#cfedfe"/><stop offset="0.17" stop-color="#d0edfe"/><stop offset="0.25" stop-color="#cfedfe"/><stop offset="0.33" stop-color="#cfedfe"/><stop offset="0.42" stop-color="#cfedfe"/><stop offset="0.5" stop-color="#d0edfe"/><stop offset="0.58" stop-color="#d0edfe"/><stop offset="0.67" stop-color="#d1eefe"/><stop offset="0.75" stop-color="#d1eefe"/><stop offset="0.83" stop-color="#d2eefe"/><stop offset="0.92" stop-color="#d3eefe"/><stop offset="1" stop-color="#d3effe"/></linearGradient><linearGradient id="gb61" x1="0" x2="1" y1="0" y2="0"><stop offset="0" stop-color="#d7f0fe"/><stop offset="0.08" stop-color="#dbf1fe"/><stop offset="0.17" stop-color="#dcf2ff"/><stop offset="0.25" stop-color="#daf1fe"/><stop offset="0.33" stop-color="#daf1fe"/><stop offset="0.42" stop-color="#daf1fe"/><stop offset="0.5" stop-color="#daf1fe"/><stop offset="0.58" stop-color="#dbf1fe"/><stop offset="0.67" stop-color="#dbf2ff"/><stop offset="0.75" stop-color="#dcf2ff"/><stop offset="0.83" stop-color="#dcf2ff"/><stop offset="0.92" stop-color="#ddf2ff"/><stop offset="1" stop-color="#ddf2ff"/></linearGradient><linearGradient id="gb62" x1="0" x2="1" y1="0" y2="0"><stop offset="0" stop-color="#e5f5ff"/><stop offset="0.08" stop-color="#eaf7ff"/><stop offset="0.17" stop-color="#ecf8ff"/><stop offset="0.25" stop-color="#e9f7ff"/><stop offset="0.33" stop-color="#e8f6ff"/><stop offset="0.42" stop-color="#e8f6ff"/><stop offset="0.5" stop-color="#e7f6ff"/><stop offset="0.58" stop-color="#e8f6ff"/><stop offset="0.67" stop-color="#e8f6ff"/><stop offset="0.75" stop-color="#e8f7ff"/><stop offset="0.83" stop-color="#e9f7ff"/><stop offset="0.92" stop-color="#e9f7ff"/><stop offset="1" stop-color="#e9f7ff"/></linearGradient><linearGradient id="gb63" x1="0" x2="1" y1="0" y2="0"><stop offset="0" stop-color="#f7fcff"/><stop offset="0.08" stop-color="#feffff"/><stop offset="0.17" stop-color="#ffffff"/><stop offset="0.25" stop-color="#fbfdff"/><stop offset="0.33" stop-color="#f9fdff"/><stop offset="0.42" stop-color="#f8fcff"/><stop offset="0.5" stop-color="#f7fcff"/><stop offset="0.58" stop-color="#f7fcff"/><stop offset="0.67" stop-color="#f7fcff"/><stop offset="0.75" stop-color="#f7fcff"/><stop offset="0.83" stop-color="#f7fcff"/><stop offset="0.92" stop-color="#f7fcff"/><stop offset="1" stop-color="#f7fcff"/></linearGradient><linearGradient id="gb64" x1="0" x2="1" y1="0" y2="0"><stop offset="0" stop-color="#fef5f5"/><stop offset="0.08" stop-color="#fdeceb"/><stop offset="0.17" stop-color="#fdeaea"/><stop offset="0.25" stop-color="#fef2f2"/><stop offset="0.33" stop-color="#fef5f5"/><stop offset="0.42" stop-color="#fef7f7"/><stop offset="0.5" stop-color="#fff9f9"/><stop offset="0.58" stop-color="#fff9f9"/><stop offset="0.67" stop-color="#fffafa"/><stop offset="0.75" stop-color="#fffafa"/><stop offset="0.83" stop-color="#fffbfa"/><stop offset="0.92" stop-color="#fffbfb"/><stop offset="1" stop-color="#fffbfb"/></linearGradient><linearGradient id="gb65" x1="0" x2="1" y1="0" y2="0"><stop offset="0" stop-color="#fcd5d3"/><stop offset="0.08" stop-color="#fac4c2"/><stop offset="0.17" stop-color="#fac3c1"/><stop offset="0.25" stop-color="#fcd3d1"/><stop offset="0.33" stop-color="#fcd9d8"/><stop offset="0.42" stop-color="#fcdede"/><stop offset="0.5" stop-color="#fde2e1"/><stop offset="0.58" stop-color="#fde4e3"/><stop offset="0.67" stop-color="#fde6e5"/><stop offset="0.75" stop-color="#fde7e6"/><stop offset="0.83" stop-color="#fde8e8"/><stop offset="0.92" stop-color="#fdeae9"/><stop offset="1" stop-color="#fdebea"/></linearGradient><linearGradient id="gb66" x1="0" x2="1" y1="0" y2="0"><stop offset="0" stop-color="#f8a8a6"/><stop offset="0.08" stop-color="#f6918e"/><stop offset="0.17" stop-color="#f6918e"/><stop offset="0.25" stop-color="#f8aaa7"/><stop offset="0.33" stop-color="#f9b5b3"/><stop offset="0.42" stop-color="#fabdbc"/><stop offset="0.5" stop-color="#fac3c2"/><stop offset="0.58" stop-color="#fbc7c6"/><stop offset="0.67" stop-color="#fbcac9"/><stop offset="0.75" stop-color="#fbcdcc"/><stop offset="0.83" stop-color="#fbd0cf"/><stop offset="0.92" stop-color="#fcd3d1"/><stop offset="1" stop-color="#fcd5d4"/></linearGradient><linearGradient id="gb67" x1="0" x2="1" y1="0" y2="0"><stop offset="0" stop-color="#f47875"/><stop offset="0.08" stop-color="#f25b57"/><stop offset="0.17" stop-color="#f25d59"/><stop offset="0.25" stop-color="#f57e7b"/><stop offset="0.33" stop-color="#f68e8b"/><stop offset="0.42" stop-color="#f79b98"/><stop offset="0.5" stop-color="#f8a3a1"/><stop offset="0.58" stop-color="#f8a9a7"/><stop offset="0.67" stop-color="#f9aeac"/><stop offset="0.75" stop-color="#f9b3b0"/><stop offset="0.83" stop-color="#f9b7b5"/><stop offset="0.92" stop-color="#fabbb9"/><stop offset="1" stop-color="#fabebd"/></linearGradient><linearGradient id="gb68" x1="0" x2="1" y1="0" y2="0"><stop offset="0" stop-color="#f14e49"/><stop offset="0.08" stop-color="#ef2d27"/><stop offset="0.17" stop-color="#ef302a"/><stop offset="0.25" stop-color="#f25954"/><stop offset="0.33" stop-color="#f46d69"/><stop offset="0.42" stop-color="#f57c79"/><stop offset="0.5" stop-color="#f68884"/><stop offset="0.58" stop-color="#f6908d"/><stop offset="0.67" stop-color="#f79693"/><stop offset="0.75" stop-color="#f79c99"/><stop offset="0.83" stop-color="#f8a19f"/><stop offset="0.92" stop-color="#f8a7a4"/><stop offset="1" stop-color="#f8aba9"/></linearGradient><linearGradient id="gb69" x1="0" x2="1" y1="0" y2="0"><stop offset="0" stop-color="#ef322d"/><stop offset="0.08" stop-color="#ee2620"/><stop offset="0.17" stop-color="#ee2620"/><stop offset="0.25" stop-color="#f0413b"/><stop offset="0.33" stop-color="#f25753"/><stop offset="0.42" stop-color="#f36965"/><stop offset="0.5" stop-color="#f47672"/><stop offset="0.58" stop-color="#f57f7c"/><stop offset="0.67" stop-color="#f68683"/><stop offset="0.75" stop-color="#f68d8a"/><stop offset="0.83" stop-color="#f79491"/><stop offset="0.92" stop-color="#f79a97"/><stop offset="1" stop-color="#f79f9d"/></linearGradient><linearGradient id="gb70" x1="0" x2="1" y1="0" y2="0"><stop offset="0" stop-color="#ee2c26"/><stop offset="0.08" stop-color="#ee2620"/><stop offset="0.17" stop-color="#ee2620"/><stop offset="0.25" stop-color="#f03b35"/><stop offset="0.33" stop-color="#f1524d"/><stop offset="0.42" stop-color="#f36460"/><stop offset="0.5" stop-color="#f4716e"/><stop offset="0.58" stop-color="#f57b77"/><stop offset="0.67" stop-color="#f5837f"/><stop offset="0.75" stop-color="#f68a86"/><stop offset="0.83" stop-color="#f6908d"/><stop offset="0.92" stop-color="#f79794"/><stop offset="1" stop-color="#f79c99"/></linearGradient><linearGradient id="gb71" x1="0" x2="1" y1="0" y2="0"><stop offset="0" stop-color="#f03b36"/><stop offset="0.08" stop-color="#ee2620"/><stop offset="0.17" stop-color="#ee2620"/><stop offset="0.25" stop-color="#f14843"/><stop offset="0.33" stop-color="#f25e5a"/><stop offset="0.42" stop-color="#f46f6b"/><stop offset="0.5" stop-color="#f57b78"/><stop offset="0.58" stop-color="#f58481"/><stop offset="0.67" stop-color="#f68b88"/><stop offset="0.75" stop-color="#f6928f"/><stop offset="0.83" stop-color="#f79895"/><stop offset="0.92" stop-color="#f79e9b"/><stop offset="1" stop-color="#f8a3a0"/></linearGradient><linearGradient id="gb72" x1="0" x2="1" y1="0" y2="0"><stop offset="0" stop-color="#f25e59"/><stop offset="0.08" stop-color="#f03e39"/><stop offset="0.17" stop-color="#f0413c"/><stop offset="0.25" stop-color="#f36762"/><stop offset="0.33" stop-color="#f57976"/><stop offset="0.42" stop-color="#f68784"/><stop offset="0.5" stop-color="#f6928f"/><stop offset="0.58" stop-color="#f79996"/><stop offset="0.67" stop-color="#f79f9c"/><stop offset="0.75" stop-color="#f8a4a2"/><stop offset="0.83" stop-color="#f8a9a7"/><stop offset="0.92" stop-color="#f9aeac"/><stop offset="1" stop-color="#f9b2b0"/></linearGradient><linearGradient id="gb73" x1="0" x2="1" y1="0" y2="0"><stop offset="0" stop-color="#f68b88"/><stop offset="0.08" stop-color="#f4716d"/><stop offset="0.17" stop-color="#f4726e"/><stop offset="0.25" stop-color="#f68f8c"/><stop offset="0.33" stop-color="#f79e9b"/><stop offset="0.42" stop-color="#f8a8a6"/><stop offset="0.5" stop-color="#f9b0ae"/><stop offset="0.58" stop-color="#f9b5b3"/><stop offset="0.67" stop-color="#fab9b7"/><stop offset="0.75" stop-color="#fabdbb"/><stop offset="0.83" stop-color="#fac1bf"/><stop offset="0.92" stop-color="#fac4c3"/><stop offset="1" stop-color="#fbc7c6"/></linearGradient><linearGradient id="gb74" x1="0" x2="1" y1="0" y2="0"><stop offset="0" stop-color="#fabbb9"/><stop offset="0.08" stop-color="#f8a6a4"/><stop offset="0.17" stop-color="#f8a6a3"/><stop offset="0.25" stop-color="#fabbb9"/><stop offset="0.33" stop-color="#fac4c3"/><stop offset="0.42" stop-color="#fbcbca"/><stop offset="0.5" stop-color="#fbd0cf"/><stop offset="0.58" stop-color="#fcd3d2"/><stop offset="0.67" stop-color="#fcd6d5"/><stop offset="0.75" stop-color="#fcd8d7"/><stop offset="0.83" stop-color="#fcdad9"/><stop offset="0.92" stop-color="#fcdcdb"/><stop offset="1" stop-color="#fcdedd"/></linearGradient><linearGradient id="gb75" x1="0" x2="1" y1="0" y2="0"><stop offset="0" stop-color="#fde3e3"/><stop offset="0.08" stop-color="#fcd6d4"/><stop offset="0.17" stop-color="#fcd4d3"/><stop offset="0.25" stop-color="#fde1e0"/><stop offset="0.33" stop-color="#fde6e5"/><stop offset="0.42" stop-color="#fdeae9"/><stop offset="0.5" stop-color="#feecec"/><stop offset="0.58" stop-color="#feeeed"/><stop offset="0.67" stop-color="#feefee"/><stop offset="0.75" stop-color="#fef0ef"/><stop offset="0.83" stop-color="#fef1f0"/><stop offset="0.92" stop-color="#fef1f1"/><stop offset="1" stop-color="#fef2f2"/></linearGradient><linearGradient id="gb76" x1="0" x2="1" y1="0" y2="0"><stop offset="0" stop-color="#fffdfd"/><stop offset="0.08" stop-color="#fef7f6"/><stop offset="0.17" stop-color="#fef5f5"/><stop offset="0.25" stop-color="#fffbfb"/><stop offset="0.33" stop-color="#fffcfc"/><stop offset="0.42" stop-color="#fffefe"/><stop offset="0.5" stop-color="#fffefe"/><stop offset="0.58" stop-color="#fffefe"/><stop offset="0.67" stop-color="#fffefe"/><stop offset="0.75" stop-color="#ffffff"/><stop offset="0.83" stop-color="#ffffff"/><stop offset="0.92" stop-color="#ffffff"/><stop offset="1" stop-color="#ffffff"/></linearGradient><linearGradient id="gb77" x1="0" x2="1" y1="0" y2="0"><stop offset="0" stop-color="#f0f9ff"/><stop offset="0.08" stop-color="#f6fbff"/><stop offset="0.17" stop-color="#f7fcff"/><stop offset="0.25" stop-color="#f3fbff"/><stop offset="0.33" stop-color="#f2faff"/><stop offset="0.42" stop-color="#f1faff"/><stop offset="0.5" stop-color="#f1faff"/><stop offset="0.58" stop-color="#f1faff"/><stop offset="0.67" stop-color="#f1faff"/><stop offset="0.75" stop-color="#f1faff"/><stop offset="0.83" stop-color="#f1faff"/><stop offset="0.92" stop-color="#f1faff"/><stop offset="1" stop-color="#f1faff"/></linearGradient><linearGradient id="gb78" x1="0" x2="1" y1="0" y2="0"><stop offset="0" stop-color="#dff3ff"/><stop offset="0.08" stop-color="#e4f5ff"/><stop offset="0.17" stop-color="#e5f5ff"/><stop offset="0.25" stop-color="#e3f4ff"/><stop offset="0.33" stop-color="#e2f4ff"/><stop offset="0.42" stop-color="#e2f4ff"/><stop offset="0.5" stop-color="#e2f4ff"/><stop offset="0.58" stop-color="#e2f4ff"/><stop offset="0.67" stop-color="#e3f4ff"/><stop offset="0.75" stop-color="#e3f5ff"/><stop offset="0.83" stop-color="#e3f5ff"/><stop offset="0.92" stop-color="#e4f5ff"/><stop offset="1" stop-color="#e4f5ff"/></linearGradient><linearGradient id="gb79" x1="0" x2="1" y1="0" y2="0"><stop offset="0" stop-color="#d2eefe"/><stop offset="0.08" stop-color="#d5effe"/><stop offset="0.17" stop-color="#d7f0fe"/><stop offset="0.25" stop-color="#d5effe"/><stop offset="0.33" stop-color="#d5effe"/><stop offset="0.42" stop-color="#d5effe"/><stop offset="0.5" stop-color="#d6effe"/><stop offset="0.58" stop-color="#d6f0fe"/><stop offset="0.67" stop-color="#d7f0fe"/><stop offset="0.75" stop-color="#d7f0fe"/><stop offset="0.83" stop-color="#d8f0fe"/><stop offset="0.92" stop-color="#d8f1fe"/><stop offset="1" stop-color="#d9f1fe"/></linearGradient><linearGradient id="gb80" x1="0" x2="1" y1="0" y2="0"><stop offset="0" stop-color="#c8ebfe"/><stop offset="0.08" stop-color="#cbebfe"/><stop offset="0.17" stop-color="#ccecfe"/><stop offset="0.25" stop-color="#cbecfe"/><stop offset="0.33" stop-color="#cbecfe"/><stop offset="0.42" stop-color="#ccecfe"/><stop offset="0.5" stop-color="#ccecfe"/><stop offset="0.58" stop-color="#cdecfe"/><stop offset="0.67" stop-color="#cdecfe"/><stop offset="0.75" stop-color="#ceedfe"/><stop offset="0.83" stop-color="#ceedfe"/><stop offset="0.92" stop-color="#cfedfe"/><stop offset="1" stop-color="#d0edfe"/></linearGradient><linearGradient id="gb81" x1="0" x2="1" y1="0" y2="0"><stop offset="0" stop-color="#c2e8fe"/><stop offset="0.08" stop-color="#c3e9fe"/><stop offset="0.17" stop-color="#c4e9fe"/><stop offset="0.25" stop-color="#c4e9fe"/><stop offset="0.33" stop-color="#c4e9fe"/><stop offset="0.42" stop-color="#c5e9fe"/><stop offset="0.5" stop-color="#c5e9fe"/><stop offset="0.58" stop-color="#c6e9fe"/><stop offset="0.67" stop-color="#c6eafe"/><stop offset="0.75" stop-color="#c7eafe"/><stop offset="0.83" stop-color="#c7eafe"/><stop offset="0.92" stop-color="#c8eafe"/><stop offset="1" stop-color="#c8eafe"/></linearGradient><linearGradient id="gb82" x1="0" x2="1" y1="0" y2="0"><stop offset="0" stop-color="#bde6fe"/><stop offset="0.08" stop-color="#bee7fe"/><stop offset="0.17" stop-color="#bfe7fe"/><stop offset="0.25" stop-color="#bfe7fe"/><stop offset="0.33" stop-color="#bfe7fe"/><stop offset="0.42" stop-color="#c0e7fe"/><stop offset="0.5" stop-color="#c0e7fe"/><stop offset="0.58" stop-color="#c0e8fe"/><stop offset="0.67" stop-color="#c1e8fe"/><stop offset="0.75" stop-color="#c1e8fe"/><stop offset="0.83" stop-color="#c2e8fe"/><stop offset="0.92" stop-color="#c2e8fe"/><stop offset="1" stop-color="#c3e8fe"/></linearGradient><linearGradient id="gb83" x1="0" x2="1" y1="0" y2="0"><stop offset="0" stop-color="#bbe5fe"/><stop offset="0.08" stop-color="#bbe6fe"/><stop offset="0.17" stop-color="#bce6fe"/><stop offset="0.25" stop-color="#bce6fe"/><stop offset="0.33" stop-color="#bce6fe"/><stop offset="0.42" stop-color="#bce6fe"/><stop offset="0.5" stop-color="#bce6fe"/><stop offset="0.58" stop-color="#bde6fe"/><stop offset="0.67" stop-color="#bde6fe"/><stop offset="0.75" stop-color="#bee6fe"/><stop offset="0.83" stop-color="#bee7fe"/><stop offset="0.92" stop-color="#bee7fe"/><stop offset="1" stop-color="#bfe7fe"/></linearGradient><linearGradient id="gb84" x1="0" x2="1" y1="0" y2="0"><stop offset="0" stop-color="#b9e5fe"/><stop offset="0.08" stop-color="#b9e5fe"/><stop offset="0.17" stop-color="#bae5fe"/><stop offset="0.25" stop-color="#bae5fe"/><stop offset="0.33" stop-color="#bae5fe"/><stop offset="0.42" stop-color="#bae5fe"/><stop offset="0.5" stop-color="#bae5fe"/><stop offset="0.58" stop-color="#bae5fe"/><stop offset="0.67" stop-color="#bbe5fe"/><stop offset="0.75" stop-color="#bbe6fe"/><stop offset="0.83" stop-color="#bbe6fe"/><stop offset="0.92" stop-color="#bce6fe"/><stop offset="1" stop-color="#bce6fe"/></linearGradient><linearGradient id="gb85" x1="0" x2="1" y1="0" y2="0"><stop offset="0" stop-color="#b8e4fe"/><stop offset="0.08" stop-color="#b8e4fe"/><stop offset="0.17" stop-color="#b8e5fe"/><stop offset="0.25" stop-color="#b8e5fe"/><stop offset="0.33" stop-color="#b9e5fe"/><stop offset="0.42" stop-color="#b9e5fe"/><stop offset="0.5" stop-color="#b9e5fe"/><stop offset="0.58" stop-color="#b9e5fe"/><stop offset="0.67" stop-color="#b9e5fe"/><stop offset="0.75" stop-color="#b9e5fe"/><stop offset="0.83" stop-color="#bae5fe"/><stop offset="0.92" stop-color="#bae5fe"/><stop offset="1" stop-color="#bae5fe"/></linearGradient><linearGradient id="gb86" x1="0" x2="1" y1="0" y2="0"><stop offset="0" stop-color="#b7e4fe"/><stop offset="0.08" stop-color="#b8e4fe"/><stop offset="0.17" stop-color="#b8e4fe"/><stop offset="0.25" stop-color="#b8e4fe"/><stop offset="0.33" stop-color="#b8e4fe"/><stop offset="0.42" stop-color="#b8e4fe"/><stop offset="0.5" stop-color="#b8e4fe"/><stop offset="0.58" stop-color="#b8e4fe"/><stop offset="0.67" stop-color="#b8e4fe"/><stop offset="0.75" stop-color="#b8e5fe"/><stop offset="0.83" stop-color="#b9e5fe"/><stop offset="0.92" stop-color="#b9e5fe"/><stop offset="1" stop-color="#b9e5fe"/></linearGradient><linearGradient id="gb87" x1="0" x2="1" y1="0" y2="0"><stop offset="0" stop-color="#b7e4fe"/><stop offset="0.08" stop-color="#b7e4fe"/><stop offset="0.17" stop-color="#b7e4fe"/><stop offset="0.25" stop-color="#b7e4fe"/><stop offset="0.33" stop-color="#b7e4fe"/><stop offset="0.42" stop-color="#b7e4fe"/><stop offset="0.5" stop-color="#b8e4fe"/><stop offset="0.58" stop-color="#b8e4fe"/><stop offset="0.67" stop-color="#b8e4fe"/><stop offset="0.75" stop-color="#b8e4fe"/><stop offset="0.83" stop-color="#b8e4fe"/><stop offset="0.92" stop-color="#b8e4fe"/><stop offset="1" stop-color="#b8e4fe"/></linearGradient><linearGradient id="gb88" x1="0" x2="1" y1="0" y2="0"><stop offset="0" stop-color="#b7e4fe"/><stop offset="0.08" stop-color="#b7e4fe"/><stop offset="0.17" stop-color="#b7e4fe"/><stop offset="0.25" stop-color="#b7e4fe"/><stop offset="0.33" stop-color="#b7e4fe"/><stop offset="0.42" stop-color="#b7e4fe"/><stop offset="0.5" stop-color="#b7e4fe"/><stop offset="0.58" stop-color="#b7e4fe"/><stop offset="0.67" stop-color="#b7e4fe"/><stop offset="0.75" stop-color="#b7e4fe"/><stop offset="0.83" stop-color="#b7e4fe"/><stop offset="0.92" stop-color="#b8e4fe"/><stop offset="1" stop-color="#b8e4fe"/></linearGradient><linearGradient id="gb89" x1="0" x2="1" y1="0" y2="0"><stop offset="0" stop-color="#b7e4fe"/><stop offset="0.08" stop-color="#b7e4fe"/><stop offset="0.17" stop-color="#b7e4fe"/><stop offset="0.25" stop-color="#b7e4fe"/><stop offset="0.33" stop-color="#b7e4fe"/><stop offset="0.42" stop-color="#b7e4fe"/><stop offset="0.5" stop-color="#b7e4fe"/><stop offset="0.58" stop-color="#b7e4fe"/><stop offset="0.67" stop-color="#b7e4fe"/><stop offset="0.75" stop-color="#b7e4fe"/><stop offset="0.83" stop-color="#b7e4fe"/><stop offset="0.92" stop-color="#b7e4fe"/><stop offset="1" stop-color="#b7e4fe"/></linearGradient><linearGradient id="gb90" x1="0" x2="1" y1="0" y2="0"><stop offset="0" stop-color="#b7e4fe"/><stop offset="0.08" stop-color="#b7e4fe"/><stop offset="0.17" stop-color="#b7e4fe"/><stop offset="0.25" stop-color="#b7e4fe"/><stop offset="0.33" stop-color="#b7e4fe"/><stop offset="0.42" stop-color="#b7e4fe"/><stop offset="0.5" stop-color="#b7e4fe"/><stop offset="0.58" stop-color="#b7e4fe"/><stop offset="0.67" stop-color="#b7e4fe"/><stop offset="0.75" stop-color="#b7e4fe"/><stop offset="0.83" stop-color="#b7e4fe"/><stop offset="0.92" stop-color="#b7e4fe"/><stop offset="1" stop-color="#b7e4fe"/></linearGradient><linearGradient id="gb91" x1="0" x2="1" y1="0" y2="0"><stop offset="0" stop-color="#b7e4fe"/><stop offset="0.08" stop-color="#b7e4fe"/><stop offset="0.17" stop-color="#b7e4fe"/><stop offset="0.25" stop-color="#b7e4fe"/><stop offset="0.33" stop-color="#b7e4fe"/><stop offset="0.42" stop-color="#b7e4fe"/><stop offset="0.5" stop-color="#b7e4fe"/><stop offset="0.58" stop-color="#b7e4fe"/><stop offset="0.67" stop-color="#b7e4fe"/><stop offset="0.75" stop-color="#b7e4fe"/><stop offset="0.83" stop-color="#b7e4fe"/><stop offset="0.92" stop-color="#b7e4fe"/><stop offset="1" stop-color="#b7e4fe"/></linearGradient><linearGradient id="gb92" x1="0" x2="1" y1="0" y2="0"><stop offset="0" stop-color="#b7e4fe"/><stop offset="0.08" stop-color="#b7e4fe"/><stop offset="0.17" stop-color="#b7e4fe"/><stop offset="0.25" stop-color="#b7e4fe"/><stop offset="0.33" stop-color="#b7e4fe"/><stop offset="0.42" stop-color="#b7e4fe"/><stop offset="0.5" stop-color="#b7e4fe"/><stop offset="0.58" stop-color="#b7e4fe"/><stop offset="0.67" stop-color="#b7e4fe"/><stop offset="0.75" stop-color="#b7e4fe"/><stop offset="0.83" stop-color="#b7e4fe"/><stop offset="0.92" stop-color="#b7e4fe"/><stop offset="1" stop-color="#b7e4fe"/></linearGradient><linearGradient id="gb93" x1="0" x2="1" y1="0" y2="0"><stop offset="0" stop-color="#b7e4fe"/><stop offset="0.08" stop-color="#b7e4fe"/><stop offset="0.17" stop-color="#b7e4fe"/><stop offset="0.25" stop-color="#b7e4fe"/><stop offset="0.33" stop-color="#b7e4fe"/><stop offset="0.42" stop-color="#b7e4fe"/><stop offset="0.5" stop-color="#b7e4fe"/><stop offset="0.58" stop-color="#b7e4fe"/><stop offset="0.67" stop-color="#b7e4fe"/><stop offset="0.75" stop-color="#b7e4fe"/><stop offset="0.83" stop-color="#b7e4fe"/><stop offset="0.92" stop-color="#b7e4fe"/><stop offset="1" stop-color="#b7e4fe"/></linearGradient><linearGradient id="cb94" x1="0" x2="1" y1="0" y2="0"><stop offset="0" stop-color="#b7e4fe"/><stop offset="0.05" stop-color="#c0e7fe"/><stop offset="0.39" stop-color="#ffffff"/><stop offset="0.7" stop-color="#f6918e"/><stop offset="1" stop-color="#ee2620"/></linearGradient><radialGradient id="mp" cx="0.45" cy="0.42" r="0.58"><stop offset="0" stop-color="#fdf0f5"/><stop offset="0.2" stop-color="#fbe4ec"/><stop offset="0.55" stop-color="#eca2be"/><stop offset="1" stop-color="#eca2be"/></radialGradient><radialGradient id="mb" cx="0.45" cy="0.42" r="0.58"><stop offset="0" stop-color="#dce9f8"/><stop offset="0.2" stop-color="#c2d8f2"/><stop offset="0.55" stop-color="#4a89cf"/><stop offset="1" stop-color="#4a89cf"/></radialGradient><radialGradient id="bpf" cx="0.45" cy="0.43" r="0.56"><stop offset="0" stop-color="#fef3f7"/><stop offset="0.06" stop-color="#fef3f7"/><stop offset="0.55" stop-color="#f1a6c2"/><stop offset="1" stop-color="#ec94b6"/></radialGradient><radialGradient id="bpa" cx="0.45" cy="0.43" r="0.56"><stop offset="0" stop-color="#ffffff"/><stop offset="0.06" stop-color="#ffffff"/><stop offset="0.55" stop-color="#f7c8da"/><stop offset="1" stop-color="#f3b7ce"/></radialGradient><radialGradient id="bbf" cx="0.45" cy="0.43" r="0.56"><stop offset="0" stop-color="#dfeaf8"/><stop offset="0.08" stop-color="#dfeaf8"/><stop offset="0.36" stop-color="#5895d8"/><stop offset="1" stop-color="#4a89cf"/></radialGradient><radialGradient id="bba" cx="0.45" cy="0.43" r="0.56"><stop offset="0" stop-color="#edf4fb"/><stop offset="0.08" stop-color="#edf4fb"/><stop offset="0.36" stop-color="#8ebae8"/><stop offset="1" stop-color="#7fb0e4"/></radialGradient><clipPath id="cl346"><rect x="346" y="225.2" width="227.5" height="182.1"/></clipPath><clipPath id="cl634"><rect x="634.2" y="225.2" width="227.1" height="182.1"/></clipPath></defs>
<rect width="865" height="440" fill="#fff"/>
<g font-family='Liberation Sans, Arial, sans-serif' font-weight="bold" fill="#1d1512">
<rect x="54.6" y="3" width="227.6" height="181.5" fill="#b7e4fe"/>
<g shape-rendering="crispEdges">
<rect x="54.6" y="41" width="227.6" height="1.02" fill="url(#ga1)"/>
<rect x="54.6" y="42" width="227.6" height="1.02" fill="url(#ga2)"/>
<rect x="54.6" y="43" width="227.6" height="1.02" fill="url(#ga3)"/>
<rect x="54.6" y="44" width="227.6" height="1.02" fill="url(#ga4)"/>
<rect x="54.6" y="45" width="227.6" height="1.02" fill="url(#ga5)"/>
<rect x="54.6" y="46" width="227.6" height="1.02" fill="url(#ga6)"/>
<rect x="54.6" y="47" width="227.6" height="1.02" fill="url(#ga7)"/>
<rect x="54.6" y="48" width="227.6" height="1.02" fill="url(#ga8)"/>
<rect x="54.6" y="49" width="227.6" height="1.02" fill="url(#ga9)"/>
<rect x="54.6" y="50" width="227.6" height="1.02" fill="url(#ga10)"/>
<rect x="54.6" y="51" width="227.6" height="1.02" fill="url(#ga11)"/>
<rect x="54.6" y="52" width="227.6" height="1.02" fill="url(#ga12)"/>
<rect x="54.6" y="53" width="227.6" height="1.02" fill="url(#ga13)"/>
<rect x="54.6" y="54" width="227.6" height="1.02" fill="url(#ga14)"/>
<rect x="54.6" y="55" width="227.6" height="1.02" fill="url(#ga15)"/>
<rect x="54.6" y="56" width="227.6" height="1.02" fill="url(#ga16)"/>
<rect x="54.6" y="57" width="227.6" height="1.02" fill="url(#ga17)"/>
<rect x="54.6" y="58" width="227.6" height="1.02" fill="url(#ga18)"/>
<rect x="54.6" y="59" width="227.6" height="1.02" fill="url(#ga19)"/>
<rect x="54.6" y="60" width="227.6" height="1.02" fill="url(#ga20)"/>
<rect x="54.6" y="61" width="227.6" height="1.02" fill="url(#ga21)"/>
<rect x="54.6" y="62" width="227.6" height="1.02" fill="url(#ga22)"/>
<rect x="54.6" y="63" width="227.6" height="1.02" fill="url(#ga23)"/>
<rect x="54.6" y="64" width="227.6" height="1.02" fill="url(#ga24)"/>
<rect x="54.6" y="65" width="227.6" height="1.02" fill="url(#ga25)"/>
<rect x="54.6" y="66" width="227.6" height="1.02" fill="url(#ga26)"/>
<rect x="54.6" y="67" width="227.6" height="1.02" fill="url(#ga27)"/>
<rect x="54.6" y="68" width="227.6" height="1.02" fill="url(#ga28)"/>
<rect x="54.6" y="69" width="227.6" height="1.02" fill="url(#ga29)"/>
<rect x="54.6" y="70" width="227.6" height="1.02" fill="url(#ga30)"/>
<rect x="54.6" y="71" width="227.6" height="1.02" fill="url(#ga31)"/>
<rect x="54.6" y="72" width="227.6" height="1.02" fill="url(#ga32)"/>
<rect x="54.6" y="73" width="227.6" height="1.02" fill="url(#ga33)"/>
<rect x="54.6" y="74" width="227.6" height="1.02" fill="url(#ga34)"/>
<rect x="54.6" y="75" width="227.6" height="1.02" fill="url(#ga35)"/>
<rect x="54.6" y="76" width="227.6" height="1.02" fill="url(#ga36)"/>
<rect x="54.6" y="77" width="227.6" height="1.02" fill="url(#ga37)"/>
<rect x="54.6" y="78" width="227.6" height="1.02" fill="url(#ga38)"/>
<rect x="54.6" y="79" width="227.6" height="1.02" fill="url(#ga39)"/>
<rect x="54.6" y="80" width="227.6" height="1.02" fill="url(#ga40)"/>
<rect x="54.6" y="81" width="227.6" height="1.02" fill="url(#ga41)"/>
<rect x="54.6" y="82" width="227.6" height="1.02" fill="url(#ga42)"/>
<rect x="54.6" y="83" width="227.6" height="1.02" fill="url(#ga43)"/>
<rect x="54.6" y="84" width="227.6" height="1.02" fill="url(#ga44)"/>
<rect x="54.6" y="85" width="227.6" height="1.02" fill="url(#ga45)"/>
</g>
<rect x="128" y="13.8" width="100.3" height="7.4" fill="url(#cb46)"/>
<rect x="54.6" y="3" width="227.6" height="181.5" fill="none" stroke="#000" stroke-width="2.1"/>
<path d="M54.6 124h4.4M54.6 63.5h4.4" stroke="#000" stroke-width="1.7" fill="none"/>
<path d="M54.6 154.25h2.5M54.6 93.75h2.5M54.6 33.25h2.5" stroke="#000" stroke-width="1.7" fill="none"/>
<path d="M130.47 184.5v-3.3M206.33 184.5v-3.3" stroke="#000" stroke-width="1.7" fill="none"/>
<path d="M92.53 184.5v-2M168.4 184.5v-2M244.27 184.5v-2" stroke="#000" stroke-width="1.7" fill="none"/>
<text x="0.8" y="14.8" font-size="16.8" text-anchor="start">(a)</text>
<text x="51.9" y="12" font-size="12.3" text-anchor="end">1000</text>
<text x="51.9" y="66.6" font-size="12.3" text-anchor="end">800</text>
<text x="51.9" y="127.1" font-size="12.3" text-anchor="end">600</text>
<text x="51.9" y="183.9" font-size="12.3" text-anchor="end">400</text>
<text x="54.6" y="198" font-size="12" text-anchor="middle">0</text>
<text x="130.47" y="198" font-size="12" text-anchor="middle">20</text>
<text x="206.33" y="198" font-size="12" text-anchor="middle">40</text>
<text x="279" y="198" font-size="12" text-anchor="middle">60</text>
<text x="171.4" y="212.6" font-size="14" text-anchor="middle">Time (min)</text>
<text x="22.6" y="95.5" font-size="14.2" text-anchor="middle" transform="rotate(-90 22.6 95.5)">Wavelength (nm)</text>
<text x="120.5" y="20" font-size="12" text-anchor="end">-0.01</text>
<text x="232" y="19.6" font-size="12" text-anchor="start">-1.09</text>
<text x="125.4" y="37.5" font-size="12.5" text-anchor="start">PL Intensity ( <tspan dx="-2.1">a.u.)</tspan></text>
<text x="238.5" y="134.4" font-size="12.4" text-anchor="middle">control</text>
<rect x="54.6" y="225.5" width="227.6" height="181.7" fill="#b7e4fe"/>
<g shape-rendering="crispEdges">
<rect x="54.6" y="262" width="227.6" height="1.02" fill="url(#gb47)"/>
<rect x="54.6" y="263" width="227.6" height="1.02" fill="url(#gb48)"/>
<rect x="54.6" y="264" width="227.6" height="1.02" fill="url(#gb49)"/>
<rect x="54.6" y="265" width="227.6" height="1.02" fill="url(#gb50)"/>
<rect x="54.6" y="266" width="227.6" height="1.02" fill="url(#gb51)"/>
<rect x="54.6" y="267" width="227.6" height="1.02" fill="url(#gb52)"/>
<rect x="54.6" y="268" width="227.6" height="1.02" fill="url(#gb53)"/>
<rect x="54.6" y="269" width="227.6" height="1.02" fill="url(#gb54)"/>
<rect x="54.6" y="270" width="227.6" height="1.02" fill="url(#gb55)"/>
<rect x="54.6" y="271" width="227.6" height="1.02" fill="url(#gb56)"/>
<rect x="54.6" y="272" width="227.6" height="1.02" fill="url(#gb57)"/>
<rect x="54.6" y="273" width="227.6" height="1.02" fill="url(#gb58)"/>
<rect x="54.6" y="274" width="227.6" height="1.02" fill="url(#gb59)"/>
<rect x="54.6" y="275" width="227.6" height="1.02" fill="url(#gb60)"/>
<rect x="54.6" y="276" width="227.6" height="1.02" fill="url(#gb61)"/>
<rect x="54.6" y="277" width="227.6" height="1.02" fill="url(#gb62)"/>
<rect x="54.6" y="278" width="227.6" height="1.02" fill="url(#gb63)"/>
<rect x="54.6" y="279" width="227.6" height="1.02" fill="url(#gb64)"/>
<rect x="54.6" y="280" width="227.6" height="1.02" fill="url(#gb65)"/>
<rect x="54.6" y="281" width="227.6" height="1.02" fill="url(#gb66)"/>
<rect x="54.6" y="282" width="227.6" height="1.02" fill="url(#gb67)"/>
<rect x="54.6" y="283" width="227.6" height="1.02" fill="url(#gb68)"/>
<rect x="54.6" y="284" width="227.6" height="1.02" fill="url(#gb69)"/>
<rect x="54.6" y="285" width="227.6" height="1.02" fill="url(#gb70)"/>
<rect x="54.6" y="286" width="227.6" height="1.02" fill="url(#gb71)"/>
<rect x="54.6" y="287" width="227.6" height="1.02" fill="url(#gb72)"/>
<rect x="54.6" y="288" width="227.6" height="1.02" fill="url(#gb73)"/>
<rect x="54.6" y="289" width="227.6" height="1.02" fill="url(#gb74)"/>
<rect x="54.6" y="290" width="227.6" height="1.02" fill="url(#gb75)"/>
<rect x="54.6" y="291" width="227.6" height="1.02" fill="url(#gb76)"/>
<rect x="54.6" y="292" width="227.6" height="1.02" fill="url(#gb77)"/>
<rect x="54.6" y="293" width="227.6" height="1.02" fill="url(#gb78)"/>
<rect x="54.6" y="294" width="227.6" height="1.02" fill="url(#gb79)"/>
<rect x="54.6" y="295" width="227.6" height="1.02" fill="url(#gb80)"/>
<rect x="54.6" y="296" width="227.6" height="1.02" fill="url(#gb81)"/>
<rect x="54.6" y="297" width="227.6" height="1.02" fill="url(#gb82)"/>
<rect x="54.6" y="298" width="227.6" height="1.02" fill="url(#gb83)"/>
<rect x="54.6" y="299" width="227.6" height="1.02" fill="url(#gb84)"/>
<rect x="54.6" y="300" width="227.6" height="1.02" fill="url(#gb85)"/>
<rect x="54.6" y="301" width="227.6" height="1.02" fill="url(#gb86)"/>
<rect x="54.6" y="302" width="227.6" height="1.02" fill="url(#gb87)"/>
<rect x="54.6" y="303" width="227.6" height="1.02" fill="url(#gb88)"/>
<rect x="54.6" y="304" width="227.6" height="1.02" fill="url(#gb89)"/>
<rect x="54.6" y="305" width="227.6" height="1.02" fill="url(#gb90)"/>
<rect x="54.6" y="306" width="227.6" height="1.02" fill="url(#gb91)"/>
<rect x="54.6" y="307" width="227.6" height="1.02" fill="url(#gb92)"/>
<rect x="54.6" y="308" width="227.6" height="1.02" fill="url(#gb93)"/>
</g>
<rect x="132.5" y="239.6" width="99" height="7.4" fill="url(#cb94)"/>
<rect x="54.6" y="225.5" width="227.6" height="181.7" fill="none" stroke="#000" stroke-width="2.1"/>
<path d="M54.6 346.63h4.4M54.6 286.07h4.4" stroke="#000" stroke-width="1.7" fill="none"/>
<path d="M54.6 376.92h2.5M54.6 316.35h2.5M54.6 255.78h2.5" stroke="#000" stroke-width="1.7" fill="none"/>
<path d="M130.47 407.2v-3.3M206.33 407.2v-3.3" stroke="#000" stroke-width="1.7" fill="none"/>
<path d="M92.53 407.2v-2M168.4 407.2v-2M244.27 407.2v-2" stroke="#000" stroke-width="1.7" fill="none"/>
<text x="0.8" y="233.4" font-size="17" text-anchor="start">(b)</text>
<text x="51.9" y="232.6" font-size="12.3" text-anchor="end">1000</text>
<text x="51.9" y="289.77" font-size="12.3" text-anchor="end">800</text>
<text x="51.9" y="351.03" font-size="12.3" text-anchor="end">600</text>
<text x="51.9" y="407.4" font-size="12.3" text-anchor="end">400</text>
<text x="52.8" y="419.7" font-size="12" text-anchor="middle">0</text>
<text x="130.47" y="419.7" font-size="12" text-anchor="middle">20</text>
<text x="206.33" y="419.7" font-size="12" text-anchor="middle">40</text>
<text x="279" y="419.7" font-size="12" text-anchor="middle">60</text>
<text x="169.4" y="434.6" font-size="14" text-anchor="middle">Time (min)</text>
<text x="21.8" y="317.5" font-size="14.2" text-anchor="middle" transform="rotate(-90 21.8 317.5)">Wavelength (nm)</text>
<text x="124.2" y="246.2" font-size="12" text-anchor="end">-0.01</text>
<text x="234.4" y="246.2" font-size="12" text-anchor="start">-1.09</text>
<text x="128.4" y="264.3" font-size="12.5" text-anchor="start">PL Intensity ( <tspan dx="-2.1">a.u.)</tspan></text>
<text x="238.7" y="364" font-size="12.4" text-anchor="middle">target</text>
<path d="M352.3 46.75H861" stroke="#444" stroke-width="1.9" stroke-dasharray="3.6 3.57" stroke-dashoffset="1.4" fill="none"/>
<polyline points="349.6,11.5 364.2,9.9 426.7,19 493,23 585,29.5 677,38 768.5,43.5 823.8,46" fill="none" stroke="#4a89cf" stroke-width="1.9" stroke-linejoin="round"/>
<circle cx="349.6" cy="11.5" r="4" fill="url(#mb)"/>
<circle cx="364.2" cy="9.9" r="4" fill="url(#mb)"/>
<circle cx="426.7" cy="19" r="4" fill="url(#mb)"/>
<circle cx="493" cy="23" r="4" fill="url(#mb)"/>
<circle cx="585" cy="29.5" r="4" fill="url(#mb)"/>
<circle cx="677" cy="38" r="4" fill="url(#mb)"/>
<circle cx="768.5" cy="43.5" r="4" fill="url(#mb)"/>
<circle cx="823.8" cy="46" r="4" fill="url(#mb)"/>
<polyline points="349.6,11.6 364.2,12.7 426.7,19.3 493,34.9 585,47.8 677,67.3 768.5,80.5 823.8,92.3" fill="none" stroke="#eca2be" stroke-width="1.9" stroke-linejoin="round"/>
<circle cx="349.6" cy="11.6" r="4" fill="url(#mp)"/>
<circle cx="364.2" cy="12.7" r="4" fill="url(#mp)"/>
<circle cx="426.7" cy="19.3" r="4" fill="url(#mp)"/>
<circle cx="493" cy="34.9" r="4" fill="url(#mp)"/>
<circle cx="585" cy="47.8" r="4" fill="url(#mp)"/>
<circle cx="677" cy="67.3" r="4" fill="url(#mp)"/>
<circle cx="768.5" cy="80.5" r="4" fill="url(#mp)"/>
<circle cx="823.8" cy="92.3" r="4" fill="url(#mp)"/>
<rect x="345.8" y="3" width="515.4" height="181.6" fill="none" stroke="#000" stroke-width="2.1"/>
<path d="M345.8 149.98h5.2M345.8 115.36h5.2M345.8 80.74h5.2M345.8 46.12h5.2M345.8 11.5h5.2" stroke="#000" stroke-width="1.7" fill="none"/>
<path d="M345.8 167.29h3M345.8 132.67h3M345.8 98.05h3M345.8 63.43h3M345.8 28.81h3" stroke="#000" stroke-width="1.7" fill="none"/>
<path d="M493.06 184.6v-4.3M640.31 184.6v-4.3M787.57 184.6v-4.3" stroke="#000" stroke-width="1.7" fill="none"/>
<path d="M419.43 184.6v-2.5M566.69 184.6v-2.5M713.94 184.6v-2.5" stroke="#000" stroke-width="1.7" fill="none"/>
<text x="299" y="15.7" font-size="16.8" text-anchor="start">(c)</text>
<text x="343" y="15.6" font-size="12" text-anchor="end">1</text>
<text x="343" y="50.22" font-size="12" text-anchor="end">0.8</text>
<text x="343" y="84.84" font-size="12" text-anchor="end">0.6</text>
<text x="343" y="119.46" font-size="12" text-anchor="end">0.4</text>
<text x="343" y="154.08" font-size="12" text-anchor="end">0.2</text>
<text x="343" y="185.2" font-size="12" text-anchor="end">0</text>
<text x="347" y="197.2" font-size="12" text-anchor="middle">0</text>
<text x="493.06" y="197.2" font-size="12" text-anchor="middle">40</text>
<text x="640.31" y="197.2" font-size="12" text-anchor="middle">80</text>
<text x="787.57" y="197.2" font-size="12" text-anchor="middle">120</text>
<text x="604.5" y="212" font-size="14" text-anchor="middle">Time (h)</text>
<text x="316.6" y="99.5" font-size="14.2" text-anchor="middle" transform="rotate(-90 316.6 99.5)">Norm. PCE</text>
<path d="M371.8 139H393.4" stroke="#eca2be" stroke-width="2"/>
<circle cx="382.5" cy="139" r="2.6" fill="url(#mp)"/>
<path d="M371.8 154.9H393.4" stroke="#4a89cf" stroke-width="2"/>
<circle cx="382.5" cy="154.9" r="2.6" fill="url(#mb)"/>
<text x="400.8" y="142.2" font-size="12.4" text-anchor="start">control</text>
<text x="400.8" y="157.9" font-size="12.4" text-anchor="start">target</text>
<text x="478" y="142.2" font-size="12.35" text-anchor="start">UV light of 365 nm (50 mW cm<tspan font-size="7.5" dy="-4.2" dx="0.8">-2</tspan><tspan dy="4.2" dx="0.6">)</tspan></text>
<text x="478" y="157.7" font-size="12.4" text-anchor="start">Unencapsulated devices</text>
<g clip-path="url(#cl346)">
<g fill="url(#bpa)">
<circle cx="348.75" cy="328.75" r="2.85"/><circle cx="350.99" cy="328.97" r="2.85"/><circle cx="353.23" cy="329.38" r="2.85"/><circle cx="355.46" cy="329.93" r="2.85"/><circle cx="357.69" cy="330.55" r="2.85"/><circle cx="359.9" cy="331.41" r="2.85"/><circle cx="362.12" cy="332.52" r="2.85"/><circle cx="364.33" cy="333.79" r="2.85"/><circle cx="366.53" cy="335.3" r="2.85"/><circle cx="368.72" cy="336.92" r="2.85"/><circle cx="370.91" cy="338.65" r="2.85"/><circle cx="373.1" cy="340.49" r="2.85"/><circle cx="375.28" cy="342.32" r="2.85"/><circle cx="377.45" cy="342.18" r="2.85"/><circle cx="379.62" cy="341.21" r="2.85"/><circle cx="381.78" cy="339.93" r="2.85"/><circle cx="383.93" cy="338.34" r="2.85"/><circle cx="386.08" cy="336.59" r="2.85"/><circle cx="388.23" cy="334.55" r="2.85"/><circle cx="390.37" cy="332.3" r="2.85"/><circle cx="392.5" cy="330" r="2.85"/><circle cx="394.63" cy="327.42" r="2.85"/><circle cx="396.75" cy="324.74" r="2.85"/><circle cx="398.86" cy="322.72" r="2.85"/><circle cx="400.97" cy="321.45" r="2.85"/><circle cx="403.08" cy="320.47" r="2.85"/><circle cx="405.18" cy="319.74" r="2.85"/><circle cx="407.27" cy="318.67" r="2.85"/><circle cx="409.36" cy="317.01" r="2.85"/><circle cx="411.44" cy="314.61" r="2.85"/><circle cx="413.52" cy="311.52" r="2.85"/><circle cx="415.59" cy="308.24" r="2.85"/><circle cx="417.66" cy="304.95" r="2.85"/><circle cx="419.72" cy="301.71" r="2.85"/><circle cx="421.78" cy="298.8" r="2.85"/><circle cx="423.83" cy="296.11" r="2.85"/><circle cx="425.87" cy="293.46" r="2.85"/><circle cx="427.91" cy="290.78" r="2.85"/><circle cx="429.94" cy="288.3" r="2.85"/><circle cx="431.97" cy="286.2" r="2.85"/><circle cx="434" cy="284.33" r="2.85"/><circle cx="436.01" cy="282.56" r="2.85"/><circle cx="438.03" cy="280.92" r="2.85"/><circle cx="440.03" cy="279.29" r="2.85"/><circle cx="442.04" cy="277.47" r="2.85"/><circle cx="444.03" cy="275.52" r="2.85"/><circle cx="446.02" cy="273.33" r="2.85"/><circle cx="448.01" cy="270.61" r="2.85"/><circle cx="449.99" cy="267.75" r="2.85"/><circle cx="451.97" cy="265.39" r="2.85"/><circle cx="453.94" cy="263.32" r="2.85"/><circle cx="455.9" cy="261.48" r="2.85"/><circle cx="457.86" cy="259.84" r="2.85"/><circle cx="459.82" cy="258.36" r="2.85"/><circle cx="461.77" cy="257.08" r="2.85"/><circle cx="463.71" cy="255.94" r="2.85"/><circle cx="465.65" cy="254.96" r="2.85"/><circle cx="467.59" cy="254.11" r="2.85"/><circle cx="469.52" cy="253.37" r="2.85"/><circle cx="471.44" cy="252.76" r="2.85"/><circle cx="473.36" cy="252.26" r="2.85"/><circle cx="475.27" cy="251.82" r="2.85"/><circle cx="477.18" cy="251.42" r="2.85"/><circle cx="479.09" cy="251.05" r="2.85"/><circle cx="480.99" cy="250.7" r="2.85"/><circle cx="482.88" cy="250.36" r="2.85"/><circle cx="484.77" cy="250.06" r="2.85"/><circle cx="486.65" cy="249.75" r="2.85"/><circle cx="488.53" cy="249.41" r="2.85"/><circle cx="490.41" cy="249.04" r="2.85"/><circle cx="492.28" cy="248.65" r="2.85"/><circle cx="494.14" cy="248.25" r="2.85"/><circle cx="496" cy="247.85" r="2.85"/><circle cx="497.85" cy="247.45" r="2.85"/><circle cx="499.7" cy="247.06" r="2.85"/><circle cx="501.55" cy="246.68" r="2.85"/><circle cx="503.39" cy="246.3" r="2.85"/><circle cx="505.22" cy="245.91" r="2.85"/><circle cx="507.05" cy="245.53" r="2.85"/><circle cx="508.88" cy="245.17" r="2.85"/><circle cx="510.7" cy="244.82" r="2.85"/><circle cx="512.51" cy="244.5" r="2.85"/><circle cx="514.32" cy="244.16" r="2.85"/><circle cx="516.13" cy="243.8" r="2.85"/><circle cx="517.93" cy="243.46" r="2.85"/><circle cx="519.73" cy="243.19" r="2.85"/><circle cx="521.52" cy="243.03" r="2.85"/><circle cx="523.31" cy="243.02" r="2.85"/><circle cx="525.09" cy="243.21" r="2.85"/><circle cx="526.87" cy="243.54" r="2.85"/><circle cx="528.64" cy="243.94" r="2.85"/><circle cx="530.41" cy="244.35" r="2.85"/><circle cx="532.17" cy="245" r="2.85"/><circle cx="533.93" cy="245.79" r="2.85"/><circle cx="535.69" cy="246.46" r="2.85"/><circle cx="537.44" cy="246.75" r="2.85"/><circle cx="539.18" cy="246.68" r="2.85"/><circle cx="540.92" cy="246.51" r="2.85"/><circle cx="542.66" cy="246.04" r="2.85"/><circle cx="544.39" cy="245.26" r="2.85"/><circle cx="546.11" cy="244.52" r="2.85"/><circle cx="547.84" cy="243.7" r="2.85"/><circle cx="549.55" cy="242.84" r="2.85"/><circle cx="551.27" cy="242" r="2.85"/><circle cx="552.98" cy="241.23" r="2.85"/><circle cx="554.68" cy="240.6" r="2.85"/><circle cx="556.38" cy="240.09" r="2.85"/><circle cx="558.08" cy="239.63" r="2.85"/><circle cx="559.77" cy="239.22" r="2.85"/><circle cx="561.45" cy="238.86" r="2.85"/><circle cx="563.75" cy="238.5" r="2.85"/>
</g>
<g fill="#ffffff">
<ellipse cx="348.65" cy="328.6" rx="0.4" ry="0.72"/><ellipse cx="350.89" cy="328.82" rx="0.4" ry="0.72"/><ellipse cx="353.13" cy="329.23" rx="0.4" ry="0.72"/><ellipse cx="355.36" cy="329.78" rx="0.4" ry="0.72"/><ellipse cx="357.59" cy="330.4" rx="0.4" ry="0.72"/><ellipse cx="359.8" cy="331.26" rx="0.4" ry="0.72"/><ellipse cx="362.02" cy="332.37" rx="0.4" ry="0.72"/><ellipse cx="364.23" cy="333.64" rx="0.4" ry="0.72"/><ellipse cx="366.43" cy="335.15" rx="0.4" ry="0.72"/><ellipse cx="368.62" cy="336.77" rx="0.4" ry="0.72"/><ellipse cx="370.81" cy="338.5" rx="0.4" ry="0.72"/><ellipse cx="373" cy="340.34" rx="0.4" ry="0.72"/><ellipse cx="375.18" cy="342.17" rx="0.4" ry="0.72"/><ellipse cx="377.35" cy="342.03" rx="0.4" ry="0.72"/><ellipse cx="379.52" cy="341.06" rx="0.4" ry="0.72"/><ellipse cx="381.68" cy="339.78" rx="0.4" ry="0.72"/><ellipse cx="383.83" cy="338.19" rx="0.4" ry="0.72"/><ellipse cx="385.98" cy="336.44" rx="0.4" ry="0.72"/><ellipse cx="388.13" cy="334.4" rx="0.4" ry="0.72"/><ellipse cx="390.27" cy="332.15" rx="0.4" ry="0.72"/><ellipse cx="392.4" cy="329.85" rx="0.4" ry="0.72"/><ellipse cx="394.53" cy="327.27" rx="0.4" ry="0.72"/><ellipse cx="396.65" cy="324.59" rx="0.4" ry="0.72"/><ellipse cx="398.76" cy="322.57" rx="0.4" ry="0.72"/><ellipse cx="400.87" cy="321.3" rx="0.4" ry="0.72"/><ellipse cx="402.98" cy="320.32" rx="0.4" ry="0.72"/><ellipse cx="405.08" cy="319.59" rx="0.4" ry="0.72"/><ellipse cx="407.17" cy="318.52" rx="0.4" ry="0.72"/><ellipse cx="409.26" cy="316.86" rx="0.4" ry="0.72"/><ellipse cx="411.34" cy="314.46" rx="0.4" ry="0.72"/><ellipse cx="413.42" cy="311.37" rx="0.4" ry="0.72"/><ellipse cx="415.49" cy="308.09" rx="0.4" ry="0.72"/><ellipse cx="417.56" cy="304.8" rx="0.4" ry="0.72"/><ellipse cx="419.62" cy="301.56" rx="0.4" ry="0.72"/><ellipse cx="421.68" cy="298.65" rx="0.4" ry="0.72"/><ellipse cx="423.73" cy="295.96" rx="0.4" ry="0.72"/><ellipse cx="425.77" cy="293.31" rx="0.4" ry="0.72"/><ellipse cx="427.81" cy="290.63" rx="0.4" ry="0.72"/><ellipse cx="429.84" cy="288.15" rx="0.4" ry="0.72"/><ellipse cx="431.87" cy="286.05" rx="0.4" ry="0.72"/><ellipse cx="433.9" cy="284.18" rx="0.4" ry="0.72"/><ellipse cx="435.91" cy="282.41" rx="0.4" ry="0.72"/><ellipse cx="437.93" cy="280.77" rx="0.4" ry="0.72"/><ellipse cx="439.93" cy="279.14" rx="0.4" ry="0.72"/><ellipse cx="441.94" cy="277.32" rx="0.4" ry="0.72"/><ellipse cx="443.93" cy="275.37" rx="0.4" ry="0.72"/><ellipse cx="445.92" cy="273.18" rx="0.4" ry="0.72"/><ellipse cx="447.91" cy="270.46" rx="0.4" ry="0.72"/><ellipse cx="449.89" cy="267.6" rx="0.4" ry="0.72"/><ellipse cx="451.87" cy="265.24" rx="0.4" ry="0.72"/><ellipse cx="453.84" cy="263.17" rx="0.4" ry="0.72"/><ellipse cx="455.8" cy="261.33" rx="0.4" ry="0.72"/><ellipse cx="457.76" cy="259.69" rx="0.4" ry="0.72"/><ellipse cx="459.72" cy="258.21" rx="0.4" ry="0.72"/><ellipse cx="461.67" cy="256.93" rx="0.4" ry="0.72"/><ellipse cx="463.61" cy="255.79" rx="0.4" ry="0.72"/><ellipse cx="465.55" cy="254.81" rx="0.4" ry="0.72"/><ellipse cx="467.49" cy="253.96" rx="0.4" ry="0.72"/><ellipse cx="469.42" cy="253.22" rx="0.4" ry="0.72"/><ellipse cx="471.34" cy="252.61" rx="0.4" ry="0.72"/><ellipse cx="473.26" cy="252.11" rx="0.4" ry="0.72"/><ellipse cx="475.17" cy="251.67" rx="0.4" ry="0.72"/><ellipse cx="477.08" cy="251.27" rx="0.4" ry="0.72"/><ellipse cx="478.99" cy="250.9" rx="0.4" ry="0.72"/><ellipse cx="480.89" cy="250.55" rx="0.4" ry="0.72"/><ellipse cx="482.78" cy="250.21" rx="0.4" ry="0.72"/><ellipse cx="484.67" cy="249.91" rx="0.4" ry="0.72"/><ellipse cx="486.55" cy="249.6" rx="0.4" ry="0.72"/><ellipse cx="488.43" cy="249.26" rx="0.4" ry="0.72"/><ellipse cx="490.31" cy="248.89" rx="0.4" ry="0.72"/><ellipse cx="492.18" cy="248.5" rx="0.4" ry="0.72"/><ellipse cx="494.04" cy="248.1" rx="0.4" ry="0.72"/><ellipse cx="495.9" cy="247.7" rx="0.4" ry="0.72"/><ellipse cx="497.75" cy="247.3" rx="0.4" ry="0.72"/><ellipse cx="499.6" cy="246.91" rx="0.4" ry="0.72"/><ellipse cx="501.45" cy="246.53" rx="0.4" ry="0.72"/><ellipse cx="503.29" cy="246.15" rx="0.4" ry="0.72"/><ellipse cx="505.12" cy="245.76" rx="0.4" ry="0.72"/><ellipse cx="506.95" cy="245.38" rx="0.4" ry="0.72"/><ellipse cx="508.78" cy="245.02" rx="0.4" ry="0.72"/><ellipse cx="510.6" cy="244.67" rx="0.4" ry="0.72"/><ellipse cx="512.41" cy="244.35" rx="0.4" ry="0.72"/><ellipse cx="514.22" cy="244.01" rx="0.4" ry="0.72"/><ellipse cx="516.03" cy="243.65" rx="0.4" ry="0.72"/><ellipse cx="517.83" cy="243.31" rx="0.4" ry="0.72"/><ellipse cx="519.63" cy="243.04" rx="0.4" ry="0.72"/><ellipse cx="521.42" cy="242.88" rx="0.4" ry="0.72"/><ellipse cx="523.21" cy="242.87" rx="0.4" ry="0.72"/><ellipse cx="524.99" cy="243.06" rx="0.4" ry="0.72"/><ellipse cx="526.77" cy="243.39" rx="0.4" ry="0.72"/><ellipse cx="528.54" cy="243.79" rx="0.4" ry="0.72"/><ellipse cx="530.31" cy="244.2" rx="0.4" ry="0.72"/><ellipse cx="532.07" cy="244.85" rx="0.4" ry="0.72"/><ellipse cx="533.83" cy="245.64" rx="0.4" ry="0.72"/><ellipse cx="535.59" cy="246.31" rx="0.4" ry="0.72"/><ellipse cx="537.34" cy="246.6" rx="0.4" ry="0.72"/><ellipse cx="539.08" cy="246.53" rx="0.4" ry="0.72"/><ellipse cx="540.82" cy="246.36" rx="0.4" ry="0.72"/><ellipse cx="542.56" cy="245.89" rx="0.4" ry="0.72"/><ellipse cx="544.29" cy="245.11" rx="0.4" ry="0.72"/><ellipse cx="546.01" cy="244.37" rx="0.4" ry="0.72"/><ellipse cx="547.74" cy="243.55" rx="0.4" ry="0.72"/><ellipse cx="549.45" cy="242.69" rx="0.4" ry="0.72"/><ellipse cx="551.17" cy="241.85" rx="0.4" ry="0.72"/><ellipse cx="552.88" cy="241.08" rx="0.4" ry="0.72"/><ellipse cx="554.58" cy="240.45" rx="0.4" ry="0.72"/><ellipse cx="556.28" cy="239.94" rx="0.4" ry="0.72"/><ellipse cx="557.98" cy="239.48" rx="0.4" ry="0.72"/><ellipse cx="559.67" cy="239.07" rx="0.4" ry="0.72"/><ellipse cx="561.35" cy="238.71" rx="0.4" ry="0.72"/><ellipse cx="563.65" cy="238.35" rx="0.4" ry="0.72"/>
</g>
<g fill="url(#bpf)">
<circle cx="346.75" cy="347.5" r="2.85"/><circle cx="349" cy="348.42" r="2.85"/><circle cx="351.24" cy="348.78" r="2.85"/><circle cx="353.48" cy="348.51" r="2.85"/><circle cx="355.71" cy="347.51" r="2.85"/><circle cx="357.93" cy="346.7" r="2.85"/><circle cx="360.15" cy="346.07" r="2.85"/><circle cx="362.36" cy="346.44" r="2.85"/><circle cx="364.57" cy="347.96" r="2.85"/><circle cx="366.77" cy="350.24" r="2.85"/><circle cx="368.97" cy="350.43" r="2.85"/><circle cx="371.15" cy="350.23" r="2.85"/><circle cx="373.34" cy="350.27" r="2.85"/><circle cx="375.52" cy="350.6" r="2.85"/><circle cx="377.69" cy="351.04" r="2.85"/><circle cx="379.85" cy="351.82" r="2.85"/><circle cx="382.02" cy="352.69" r="2.85"/><circle cx="384.17" cy="352.94" r="2.85"/><circle cx="386.32" cy="351.44" r="2.85"/><circle cx="388.46" cy="350.03" r="2.85"/><circle cx="390.6" cy="350.77" r="2.85"/><circle cx="392.73" cy="352.23" r="2.85"/><circle cx="394.86" cy="352.29" r="2.85"/><circle cx="396.98" cy="351.19" r="2.85"/><circle cx="399.1" cy="350.14" r="2.85"/><circle cx="401.21" cy="350.36" r="2.85"/><circle cx="403.31" cy="352.09" r="2.85"/><circle cx="405.41" cy="354.89" r="2.85"/><circle cx="407.5" cy="357.81" r="2.85"/><circle cx="409.59" cy="358.22" r="2.85"/><circle cx="411.67" cy="354.56" r="2.85"/><circle cx="413.75" cy="348.75" r="2.85"/><circle cx="415.82" cy="342.51" r="2.85"/><circle cx="417.89" cy="337.82" r="2.85"/><circle cx="419.95" cy="333.71" r="2.85"/><circle cx="422" cy="329.07" r="2.85"/><circle cx="424.05" cy="325.05" r="2.85"/><circle cx="426.1" cy="321.5" r="2.85"/><circle cx="428.14" cy="318.41" r="2.85"/><circle cx="430.17" cy="315.33" r="2.85"/><circle cx="432.2" cy="312.47" r="2.85"/><circle cx="434.22" cy="309.9" r="2.85"/><circle cx="436.24" cy="307.51" r="2.85"/><circle cx="438.25" cy="305.9" r="2.85"/><circle cx="440.26" cy="304.92" r="2.85"/><circle cx="442.26" cy="304.4" r="2.85"/><circle cx="444.25" cy="304.25" r="2.85"/><circle cx="446.24" cy="304.29" r="2.85"/><circle cx="448.23" cy="303.99" r="2.85"/><circle cx="450.21" cy="299.26" r="2.85"/><circle cx="452.19" cy="293.52" r="2.85"/><circle cx="454.16" cy="288.68" r="2.85"/><circle cx="456.12" cy="284.93" r="2.85"/><circle cx="458.08" cy="281.86" r="2.85"/><circle cx="460.03" cy="279.34" r="2.85"/><circle cx="461.98" cy="277.22" r="2.85"/><circle cx="463.93" cy="275.72" r="2.85"/><circle cx="465.87" cy="274.67" r="2.85"/><circle cx="467.8" cy="273.61" r="2.85"/><circle cx="469.73" cy="272.7" r="2.85"/><circle cx="471.65" cy="272.08" r="2.85"/><circle cx="473.57" cy="271.56" r="2.85"/><circle cx="475.48" cy="271.14" r="2.85"/><circle cx="477.39" cy="270.82" r="2.85"/><circle cx="479.3" cy="270.55" r="2.85"/><circle cx="481.2" cy="270.29" r="2.85"/><circle cx="483.09" cy="270.05" r="2.85"/><circle cx="484.98" cy="269.85" r="2.85"/><circle cx="486.86" cy="269.71" r="2.85"/><circle cx="488.74" cy="269.62" r="2.85"/><circle cx="490.61" cy="269.6" r="2.85"/><circle cx="492.48" cy="269.61" r="2.85"/><circle cx="494.35" cy="269.64" r="2.85"/><circle cx="496.2" cy="269.68" r="2.85"/><circle cx="498.06" cy="269.74" r="2.85"/><circle cx="499.91" cy="269.8" r="2.85"/><circle cx="501.75" cy="269.87" r="2.85"/><circle cx="503.59" cy="269.94" r="2.85"/><circle cx="505.42" cy="270.02" r="2.85"/><circle cx="507.25" cy="270.17" r="2.85"/><circle cx="509.08" cy="270.39" r="2.85"/><circle cx="510.9" cy="270.64" r="2.85"/><circle cx="512.71" cy="270.89" r="2.85"/><circle cx="514.52" cy="271.09" r="2.85"/><circle cx="516.33" cy="271.22" r="2.85"/><circle cx="518.13" cy="271.25" r="2.85"/><circle cx="519.93" cy="271.23" r="2.85"/><circle cx="521.72" cy="271.19" r="2.85"/><circle cx="523.5" cy="271.13" r="2.85"/><circle cx="525.29" cy="271.05" r="2.85"/><circle cx="527.06" cy="270.96" r="2.85"/><circle cx="528.84" cy="270.84" r="2.85"/><circle cx="530.6" cy="270.67" r="2.85"/><circle cx="532.37" cy="270.17" r="2.85"/><circle cx="534.13" cy="269.37" r="2.85"/><circle cx="535.88" cy="268.41" r="2.85"/><circle cx="537.63" cy="267.43" r="2.85"/><circle cx="539.37" cy="266.28" r="2.85"/><circle cx="541.11" cy="264.91" r="2.85"/><circle cx="542.85" cy="263.52" r="2.85"/><circle cx="544.58" cy="262.26" r="2.85"/><circle cx="546.31" cy="261.23" r="2.85"/><circle cx="548.03" cy="260.25" r="2.85"/><circle cx="549.74" cy="259.33" r="2.85"/><circle cx="551.46" cy="258.49" r="2.85"/><circle cx="553.16" cy="257.72" r="2.85"/><circle cx="554.87" cy="257.05" r="2.85"/><circle cx="556.57" cy="256.45" r="2.85"/><circle cx="558.26" cy="255.89" r="2.85"/><circle cx="559.95" cy="255.39" r="2.85"/><circle cx="561.64" cy="254.95" r="2.85"/><circle cx="563.75" cy="254.5" r="2.85"/>
</g>
<g fill="#fef3f7">
<ellipse cx="346.65" cy="347.35" rx="0.4" ry="0.72"/><ellipse cx="348.9" cy="348.27" rx="0.4" ry="0.72"/><ellipse cx="351.14" cy="348.63" rx="0.4" ry="0.72"/><ellipse cx="353.38" cy="348.36" rx="0.4" ry="0.72"/><ellipse cx="355.61" cy="347.36" rx="0.4" ry="0.72"/><ellipse cx="357.83" cy="346.55" rx="0.4" ry="0.72"/><ellipse cx="360.05" cy="345.92" rx="0.4" ry="0.72"/><ellipse cx="362.26" cy="346.29" rx="0.4" ry="0.72"/><ellipse cx="364.47" cy="347.81" rx="0.4" ry="0.72"/><ellipse cx="366.67" cy="350.09" rx="0.4" ry="0.72"/><ellipse cx="368.87" cy="350.28" rx="0.4" ry="0.72"/><ellipse cx="371.05" cy="350.08" rx="0.4" ry="0.72"/><ellipse cx="373.24" cy="350.12" rx="0.4" ry="0.72"/><ellipse cx="375.42" cy="350.45" rx="0.4" ry="0.72"/><ellipse cx="377.59" cy="350.89" rx="0.4" ry="0.72"/><ellipse cx="379.75" cy="351.67" rx="0.4" ry="0.72"/><ellipse cx="381.92" cy="352.54" rx="0.4" ry="0.72"/><ellipse cx="384.07" cy="352.79" rx="0.4" ry="0.72"/><ellipse cx="386.22" cy="351.29" rx="0.4" ry="0.72"/><ellipse cx="388.36" cy="349.88" rx="0.4" ry="0.72"/><ellipse cx="390.5" cy="350.62" rx="0.4" ry="0.72"/><ellipse cx="392.63" cy="352.08" rx="0.4" ry="0.72"/><ellipse cx="394.76" cy="352.14" rx="0.4" ry="0.72"/><ellipse cx="396.88" cy="351.04" rx="0.4" ry="0.72"/><ellipse cx="399" cy="349.99" rx="0.4" ry="0.72"/><ellipse cx="401.11" cy="350.21" rx="0.4" ry="0.72"/><ellipse cx="403.21" cy="351.94" rx="0.4" ry="0.72"/><ellipse cx="405.31" cy="354.74" rx="0.4" ry="0.72"/><ellipse cx="407.4" cy="357.66" rx="0.4" ry="0.72"/><ellipse cx="409.49" cy="358.07" rx="0.4" ry="0.72"/><ellipse cx="411.57" cy="354.41" rx="0.4" ry="0.72"/><ellipse cx="413.65" cy="348.6" rx="0.4" ry="0.72"/><ellipse cx="415.72" cy="342.36" rx="0.4" ry="0.72"/><ellipse cx="417.79" cy="337.67" rx="0.4" ry="0.72"/><ellipse cx="419.85" cy="333.56" rx="0.4" ry="0.72"/><ellipse cx="421.9" cy="328.92" rx="0.4" ry="0.72"/><ellipse cx="423.95" cy="324.9" rx="0.4" ry="0.72"/><ellipse cx="426" cy="321.35" rx="0.4" ry="0.72"/><ellipse cx="428.04" cy="318.26" rx="0.4" ry="0.72"/><ellipse cx="430.07" cy="315.18" rx="0.4" ry="0.72"/><ellipse cx="432.1" cy="312.32" rx="0.4" ry="0.72"/><ellipse cx="434.12" cy="309.75" rx="0.4" ry="0.72"/><ellipse cx="436.14" cy="307.36" rx="0.4" ry="0.72"/><ellipse cx="438.15" cy="305.75" rx="0.4" ry="0.72"/><ellipse cx="440.16" cy="304.77" rx="0.4" ry="0.72"/><ellipse cx="442.16" cy="304.25" rx="0.4" ry="0.72"/><ellipse cx="444.15" cy="304.1" rx="0.4" ry="0.72"/><ellipse cx="446.14" cy="304.14" rx="0.4" ry="0.72"/><ellipse cx="448.13" cy="303.84" rx="0.4" ry="0.72"/><ellipse cx="450.11" cy="299.11" rx="0.4" ry="0.72"/><ellipse cx="452.09" cy="293.37" rx="0.4" ry="0.72"/><ellipse cx="454.06" cy="288.53" rx="0.4" ry="0.72"/><ellipse cx="456.02" cy="284.78" rx="0.4" ry="0.72"/><ellipse cx="457.98" cy="281.71" rx="0.4" ry="0.72"/><ellipse cx="459.93" cy="279.19" rx="0.4" ry="0.72"/><ellipse cx="461.88" cy="277.07" rx="0.4" ry="0.72"/><ellipse cx="463.83" cy="275.57" rx="0.4" ry="0.72"/><ellipse cx="465.77" cy="274.52" rx="0.4" ry="0.72"/><ellipse cx="467.7" cy="273.46" rx="0.4" ry="0.72"/><ellipse cx="469.63" cy="272.55" rx="0.4" ry="0.72"/><ellipse cx="471.55" cy="271.93" rx="0.4" ry="0.72"/><ellipse cx="473.47" cy="271.41" rx="0.4" ry="0.72"/><ellipse cx="475.38" cy="270.99" rx="0.4" ry="0.72"/><ellipse cx="477.29" cy="270.67" rx="0.4" ry="0.72"/><ellipse cx="479.2" cy="270.4" rx="0.4" ry="0.72"/><ellipse cx="481.1" cy="270.14" rx="0.4" ry="0.72"/><ellipse cx="482.99" cy="269.9" rx="0.4" ry="0.72"/><ellipse cx="484.88" cy="269.7" rx="0.4" ry="0.72"/><ellipse cx="486.76" cy="269.56" rx="0.4" ry="0.72"/><ellipse cx="488.64" cy="269.47" rx="0.4" ry="0.72"/><ellipse cx="490.51" cy="269.45" rx="0.4" ry="0.72"/><ellipse cx="492.38" cy="269.46" rx="0.4" ry="0.72"/><ellipse cx="494.25" cy="269.49" rx="0.4" ry="0.72"/><ellipse cx="496.1" cy="269.53" rx="0.4" ry="0.72"/><ellipse cx="497.96" cy="269.59" rx="0.4" ry="0.72"/><ellipse cx="499.81" cy="269.65" rx="0.4" ry="0.72"/><ellipse cx="501.65" cy="269.72" rx="0.4" ry="0.72"/><ellipse cx="503.49" cy="269.79" rx="0.4" ry="0.72"/><ellipse cx="505.32" cy="269.87" rx="0.4" ry="0.72"/><ellipse cx="507.15" cy="270.02" rx="0.4" ry="0.72"/><ellipse cx="508.98" cy="270.24" rx="0.4" ry="0.72"/><ellipse cx="510.8" cy="270.49" rx="0.4" ry="0.72"/><ellipse cx="512.61" cy="270.74" rx="0.4" ry="0.72"/><ellipse cx="514.42" cy="270.94" rx="0.4" ry="0.72"/><ellipse cx="516.23" cy="271.07" rx="0.4" ry="0.72"/><ellipse cx="518.03" cy="271.1" rx="0.4" ry="0.72"/><ellipse cx="519.83" cy="271.08" rx="0.4" ry="0.72"/><ellipse cx="521.62" cy="271.04" rx="0.4" ry="0.72"/><ellipse cx="523.4" cy="270.98" rx="0.4" ry="0.72"/><ellipse cx="525.19" cy="270.9" rx="0.4" ry="0.72"/><ellipse cx="526.96" cy="270.81" rx="0.4" ry="0.72"/><ellipse cx="528.74" cy="270.69" rx="0.4" ry="0.72"/><ellipse cx="530.5" cy="270.52" rx="0.4" ry="0.72"/><ellipse cx="532.27" cy="270.02" rx="0.4" ry="0.72"/><ellipse cx="534.03" cy="269.22" rx="0.4" ry="0.72"/><ellipse cx="535.78" cy="268.26" rx="0.4" ry="0.72"/><ellipse cx="537.53" cy="267.28" rx="0.4" ry="0.72"/><ellipse cx="539.27" cy="266.13" rx="0.4" ry="0.72"/><ellipse cx="541.01" cy="264.76" rx="0.4" ry="0.72"/><ellipse cx="542.75" cy="263.37" rx="0.4" ry="0.72"/><ellipse cx="544.48" cy="262.11" rx="0.4" ry="0.72"/><ellipse cx="546.21" cy="261.08" rx="0.4" ry="0.72"/><ellipse cx="547.93" cy="260.1" rx="0.4" ry="0.72"/><ellipse cx="549.64" cy="259.18" rx="0.4" ry="0.72"/><ellipse cx="551.36" cy="258.34" rx="0.4" ry="0.72"/><ellipse cx="553.06" cy="257.57" rx="0.4" ry="0.72"/><ellipse cx="554.77" cy="256.9" rx="0.4" ry="0.72"/><ellipse cx="556.47" cy="256.3" rx="0.4" ry="0.72"/><ellipse cx="558.16" cy="255.74" rx="0.4" ry="0.72"/><ellipse cx="559.85" cy="255.24" rx="0.4" ry="0.72"/><ellipse cx="561.54" cy="254.8" rx="0.4" ry="0.72"/><ellipse cx="563.65" cy="254.35" rx="0.4" ry="0.72"/>
</g>
</g>
<rect x="346" y="225.2" width="227.5" height="182.1" fill="none" stroke="#000" stroke-width="2.1"/>
<path d="M346 244.5h5M346 298.75h5M346 353h5" stroke="#000" stroke-width="1.7" fill="none"/>
<path d="M346 271.62h3.2M346 325.88h3.2M346 380.12h3.2" stroke="#000" stroke-width="1.7" fill="none"/>
<path d="M346 399.08h2.2M346 394.31h2.2M346 390.92h2.2M346 388.29h2.2M346 386.14h2.2M346 384.33h2.2M346 382.75h2.2M346 381.37h2.2M346 371.96h2.2M346 367.18h2.2M346 363.79h2.2M346 361.17h2.2M346 359.02h2.2M346 357.2h2.2M346 355.63h2.2M346 354.24h2.2M346 344.83h2.2M346 340.06h2.2M346 336.67h2.2M346 334.04h2.2M346 331.89h2.2M346 330.08h2.2M346 328.5h2.2M346 327.12h2.2M346 317.71h2.2M346 312.93h2.2M346 309.54h2.2M346 306.92h2.2M346 304.77h2.2M346 302.95h2.2M346 301.38h2.2M346 299.99h2.2M346 290.58h2.2M346 285.81h2.2M346 282.42h2.2M346 279.79h2.2M346 277.64h2.2M346 275.83h2.2M346 274.25h2.2M346 272.87h2.2M346 263.46h2.2M346 258.68h2.2M346 255.29h2.2M346 252.67h2.2M346 250.52h2.2M346 248.7h2.2M346 247.13h2.2M346 245.74h2.2M346 236.33h2.2M346 231.56h2.2M346 228.17h2.2" stroke="#000" stroke-width="0.8" fill="none"/>
<path d="M378.5 407.3v-4M443.5 407.3v-4M508.5 407.3v-4" stroke="#000" stroke-width="1.7" fill="none"/>
<path d="M411 407.3v-2.5M476 407.3v-2.5M541 407.3v-2.5" stroke="#000" stroke-width="1.7" fill="none"/>
<text x="299.5" y="233.7" font-size="16.8" text-anchor="start">(d)</text>
<text x="343.2" y="248.4" font-size="12" text-anchor="end">1E18</text>
<text x="343.2" y="302.65" font-size="12" text-anchor="end">1E16</text>
<text x="343.2" y="356.9" font-size="12" text-anchor="end">1E14</text>
<text x="343.2" y="408.15" font-size="12" text-anchor="end">1E12</text>
<text x="378.8" y="420.5" font-size="12" text-anchor="middle">0.2</text>
<text x="443.5" y="420.5" font-size="12" text-anchor="middle">0.3</text>
<text x="508.5" y="420.5" font-size="12" text-anchor="middle">0.4</text>
<text x="570.5" y="420.5" font-size="12" text-anchor="middle">0.5</text>
<text x="461.05" y="434.5" font-size="14" text-anchor="middle">Eω (eV)</text>
<text x="310.1" y="317.6" font-size="14.3" text-anchor="middle" transform="rotate(-90 310.1 317.6)">tODS (cm<tspan font-size="9" dy="-4.6">-3</tspan><tspan dy="4.6">eV</tspan><tspan font-size="9" dy="-4.6">-1</tspan><tspan dy="4.6">)</tspan></text>
<circle cx="363" cy="238.5" r="2.9" fill="url(#bpf)"/>
<text x="373.9" y="242.2" font-size="12.3" text-anchor="start">control-fresh</text>
<circle cx="363" cy="252.9" r="2.9" fill="url(#bpa)"/>
<text x="373.9" y="256.6" font-size="12.3" text-anchor="start">control-aged</text>
<g clip-path="url(#cl634)">
<g fill="url(#bba)">
<circle cx="635.5" cy="356.25" r="2.85"/><circle cx="637.74" cy="360.15" r="2.85"/><circle cx="639.98" cy="361.17" r="2.85"/><circle cx="642.21" cy="361.76" r="2.85"/><circle cx="644.42" cy="362.31" r="2.85"/><circle cx="646.63" cy="363.05" r="2.85"/><circle cx="648.83" cy="363.77" r="2.85"/><circle cx="651.02" cy="364.52" r="2.85"/><circle cx="653.2" cy="365.39" r="2.85"/><circle cx="655.37" cy="366.46" r="2.85"/><circle cx="657.53" cy="368.14" r="2.85"/><circle cx="659.68" cy="370.08" r="2.85"/><circle cx="661.82" cy="371.62" r="2.85"/><circle cx="663.96" cy="373" r="2.85"/><circle cx="666.08" cy="373.75" r="2.85"/><circle cx="668.2" cy="372.95" r="2.85"/><circle cx="670.31" cy="370.81" r="2.85"/><circle cx="672.41" cy="365.07" r="2.85"/><circle cx="674.5" cy="361.37" r="2.85"/><circle cx="676.58" cy="359.29" r="2.85"/><circle cx="678.65" cy="358.18" r="2.85"/><circle cx="680.72" cy="357.41" r="2.85"/><circle cx="682.77" cy="356.96" r="2.85"/><circle cx="684.82" cy="356.74" r="2.85"/><circle cx="686.86" cy="356.6" r="2.85"/><circle cx="688.89" cy="356.41" r="2.85"/><circle cx="690.91" cy="356.02" r="2.85"/><circle cx="692.92" cy="355.05" r="2.85"/><circle cx="694.92" cy="353.61" r="2.85"/><circle cx="696.92" cy="351.84" r="2.85"/><circle cx="698.91" cy="349.11" r="2.85"/><circle cx="700.89" cy="345.67" r="2.85"/><circle cx="702.86" cy="341.41" r="2.85"/><circle cx="704.82" cy="336.63" r="2.85"/><circle cx="706.78" cy="332.54" r="2.85"/><circle cx="708.72" cy="328.81" r="2.85"/><circle cx="710.66" cy="325.87" r="2.85"/><circle cx="712.59" cy="323.64" r="2.85"/><circle cx="714.51" cy="322.91" r="2.85"/><circle cx="716.43" cy="322.52" r="2.85"/><circle cx="718.33" cy="322.15" r="2.85"/><circle cx="720.23" cy="321.81" r="2.85"/><circle cx="722.12" cy="321.07" r="2.85"/><circle cx="724" cy="319.57" r="2.85"/><circle cx="725.88" cy="317.49" r="2.85"/><circle cx="727.74" cy="314.59" r="2.85"/><circle cx="729.6" cy="311.44" r="2.85"/><circle cx="731.45" cy="308.24" r="2.85"/><circle cx="733.3" cy="305.21" r="2.85"/><circle cx="735.13" cy="301.89" r="2.85"/><circle cx="736.96" cy="298.38" r="2.85"/><circle cx="738.78" cy="295.09" r="2.85"/><circle cx="740.59" cy="291.78" r="2.85"/><circle cx="742.4" cy="288.37" r="2.85"/><circle cx="744.19" cy="285.12" r="2.85"/><circle cx="745.98" cy="282.39" r="2.85"/><circle cx="747.77" cy="280.23" r="2.85"/><circle cx="749.54" cy="278.64" r="2.85"/><circle cx="751.31" cy="277.39" r="2.85"/><circle cx="753.07" cy="276.44" r="2.85"/><circle cx="754.82" cy="275.66" r="2.85"/><circle cx="756.57" cy="274.98" r="2.85"/><circle cx="758.31" cy="274.51" r="2.85"/><circle cx="760.04" cy="274.17" r="2.85"/><circle cx="761.76" cy="273.89" r="2.85"/><circle cx="763.48" cy="273.63" r="2.85"/><circle cx="765.19" cy="273.37" r="2.85"/><circle cx="766.89" cy="273.13" r="2.85"/><circle cx="768.58" cy="272.9" r="2.85"/><circle cx="770.27" cy="272.66" r="2.85"/><circle cx="771.95" cy="272.37" r="2.85"/><circle cx="773.63" cy="272.01" r="2.85"/><circle cx="775.29" cy="271.59" r="2.85"/><circle cx="776.95" cy="271.15" r="2.85"/><circle cx="778.6" cy="270.7" r="2.85"/><circle cx="780.25" cy="270.25" r="2.85"/><circle cx="781.89" cy="269.76" r="2.85"/><circle cx="783.52" cy="269.2" r="2.85"/><circle cx="785.15" cy="268.36" r="2.85"/><circle cx="786.77" cy="267.69" r="2.85"/><circle cx="788.38" cy="267.65" r="2.85"/><circle cx="789.98" cy="267.96" r="2.85"/><circle cx="791.58" cy="268.45" r="2.85"/><circle cx="793.17" cy="269.01" r="2.85"/><circle cx="794.76" cy="269.53" r="2.85"/><circle cx="796.34" cy="270.04" r="2.85"/><circle cx="797.91" cy="270.65" r="2.85"/><circle cx="799.47" cy="271.26" r="2.85"/><circle cx="801.03" cy="271.74" r="2.85"/><circle cx="802.58" cy="271.99" r="2.85"/><circle cx="804.13" cy="271.98" r="2.85"/><circle cx="805.67" cy="271.89" r="2.85"/><circle cx="807.2" cy="271.76" r="2.85"/><circle cx="808.73" cy="271.6" r="2.85"/><circle cx="810.25" cy="271.43" r="2.85"/><circle cx="811.76" cy="271.27" r="2.85"/><circle cx="813.27" cy="271.13" r="2.85"/><circle cx="814.77" cy="270.99" r="2.85"/><circle cx="816.26" cy="270.84" r="2.85"/><circle cx="817.75" cy="270.69" r="2.85"/><circle cx="819.23" cy="270.55" r="2.85"/><circle cx="820.71" cy="270.42" r="2.85"/><circle cx="822.18" cy="270.31" r="2.85"/><circle cx="823.64" cy="270.22" r="2.85"/><circle cx="825.1" cy="270.13" r="2.85"/><circle cx="826.55" cy="270.04" r="2.85"/><circle cx="828" cy="269.94" r="2.85"/><circle cx="829.44" cy="269.84" r="2.85"/><circle cx="830.87" cy="269.73" r="2.85"/><circle cx="832.3" cy="269.61" r="2.85"/><circle cx="833.72" cy="269.49" r="2.85"/><circle cx="835.13" cy="269.35" r="2.85"/><circle cx="836.54" cy="269.2" r="2.85"/><circle cx="837.95" cy="269.03" r="2.85"/><circle cx="839.35" cy="268.84" r="2.85"/><circle cx="840.74" cy="268.62" r="2.85"/><circle cx="842.12" cy="268.36" r="2.85"/><circle cx="843.5" cy="268.07" r="2.85"/><circle cx="844.88" cy="267.73" r="2.85"/><circle cx="846.25" cy="267.31" r="2.85"/><circle cx="847.61" cy="266.78" r="2.85"/><circle cx="848.97" cy="266.19" r="2.85"/><circle cx="850.32" cy="265.51" r="2.85"/><circle cx="851.4" cy="264.9" r="2.85"/>
</g>
<g fill="#edf4fb">
<ellipse cx="635.4" cy="356.1" rx="0.4" ry="0.72"/><ellipse cx="637.64" cy="360" rx="0.4" ry="0.72"/><ellipse cx="639.88" cy="361.02" rx="0.4" ry="0.72"/><ellipse cx="642.11" cy="361.61" rx="0.4" ry="0.72"/><ellipse cx="644.32" cy="362.16" rx="0.4" ry="0.72"/><ellipse cx="646.53" cy="362.9" rx="0.4" ry="0.72"/><ellipse cx="648.73" cy="363.62" rx="0.4" ry="0.72"/><ellipse cx="650.92" cy="364.37" rx="0.4" ry="0.72"/><ellipse cx="653.1" cy="365.24" rx="0.4" ry="0.72"/><ellipse cx="655.27" cy="366.31" rx="0.4" ry="0.72"/><ellipse cx="657.43" cy="367.99" rx="0.4" ry="0.72"/><ellipse cx="659.58" cy="369.93" rx="0.4" ry="0.72"/><ellipse cx="661.72" cy="371.47" rx="0.4" ry="0.72"/><ellipse cx="663.86" cy="372.85" rx="0.4" ry="0.72"/><ellipse cx="665.98" cy="373.6" rx="0.4" ry="0.72"/><ellipse cx="668.1" cy="372.8" rx="0.4" ry="0.72"/><ellipse cx="670.21" cy="370.66" rx="0.4" ry="0.72"/><ellipse cx="672.31" cy="364.92" rx="0.4" ry="0.72"/><ellipse cx="674.4" cy="361.22" rx="0.4" ry="0.72"/><ellipse cx="676.48" cy="359.14" rx="0.4" ry="0.72"/><ellipse cx="678.55" cy="358.03" rx="0.4" ry="0.72"/><ellipse cx="680.62" cy="357.26" rx="0.4" ry="0.72"/><ellipse cx="682.67" cy="356.81" rx="0.4" ry="0.72"/><ellipse cx="684.72" cy="356.59" rx="0.4" ry="0.72"/><ellipse cx="686.76" cy="356.45" rx="0.4" ry="0.72"/><ellipse cx="688.79" cy="356.26" rx="0.4" ry="0.72"/><ellipse cx="690.81" cy="355.87" rx="0.4" ry="0.72"/><ellipse cx="692.82" cy="354.9" rx="0.4" ry="0.72"/><ellipse cx="694.82" cy="353.46" rx="0.4" ry="0.72"/><ellipse cx="696.82" cy="351.69" rx="0.4" ry="0.72"/><ellipse cx="698.81" cy="348.96" rx="0.4" ry="0.72"/><ellipse cx="700.79" cy="345.52" rx="0.4" ry="0.72"/><ellipse cx="702.76" cy="341.26" rx="0.4" ry="0.72"/><ellipse cx="704.72" cy="336.48" rx="0.4" ry="0.72"/><ellipse cx="706.68" cy="332.39" rx="0.4" ry="0.72"/><ellipse cx="708.62" cy="328.66" rx="0.4" ry="0.72"/><ellipse cx="710.56" cy="325.72" rx="0.4" ry="0.72"/><ellipse cx="712.49" cy="323.49" rx="0.4" ry="0.72"/><ellipse cx="714.41" cy="322.76" rx="0.4" ry="0.72"/><ellipse cx="716.33" cy="322.37" rx="0.4" ry="0.72"/><ellipse cx="718.23" cy="322" rx="0.4" ry="0.72"/><ellipse cx="720.13" cy="321.66" rx="0.4" ry="0.72"/><ellipse cx="722.02" cy="320.92" rx="0.4" ry="0.72"/><ellipse cx="723.9" cy="319.42" rx="0.4" ry="0.72"/><ellipse cx="725.78" cy="317.34" rx="0.4" ry="0.72"/><ellipse cx="727.64" cy="314.44" rx="0.4" ry="0.72"/><ellipse cx="729.5" cy="311.29" rx="0.4" ry="0.72"/><ellipse cx="731.35" cy="308.09" rx="0.4" ry="0.72"/><ellipse cx="733.2" cy="305.06" rx="0.4" ry="0.72"/><ellipse cx="735.03" cy="301.74" rx="0.4" ry="0.72"/><ellipse cx="736.86" cy="298.23" rx="0.4" ry="0.72"/><ellipse cx="738.68" cy="294.94" rx="0.4" ry="0.72"/><ellipse cx="740.49" cy="291.63" rx="0.4" ry="0.72"/><ellipse cx="742.3" cy="288.22" rx="0.4" ry="0.72"/><ellipse cx="744.09" cy="284.97" rx="0.4" ry="0.72"/><ellipse cx="745.88" cy="282.24" rx="0.4" ry="0.72"/><ellipse cx="747.67" cy="280.08" rx="0.4" ry="0.72"/><ellipse cx="749.44" cy="278.49" rx="0.4" ry="0.72"/><ellipse cx="751.21" cy="277.24" rx="0.4" ry="0.72"/><ellipse cx="752.97" cy="276.29" rx="0.4" ry="0.72"/><ellipse cx="754.72" cy="275.51" rx="0.4" ry="0.72"/><ellipse cx="756.47" cy="274.83" rx="0.4" ry="0.72"/><ellipse cx="758.21" cy="274.36" rx="0.4" ry="0.72"/><ellipse cx="759.94" cy="274.02" rx="0.4" ry="0.72"/><ellipse cx="761.66" cy="273.74" rx="0.4" ry="0.72"/><ellipse cx="763.38" cy="273.48" rx="0.4" ry="0.72"/><ellipse cx="765.09" cy="273.22" rx="0.4" ry="0.72"/><ellipse cx="766.79" cy="272.98" rx="0.4" ry="0.72"/><ellipse cx="768.48" cy="272.75" rx="0.4" ry="0.72"/><ellipse cx="770.17" cy="272.51" rx="0.4" ry="0.72"/><ellipse cx="771.85" cy="272.22" rx="0.4" ry="0.72"/><ellipse cx="773.53" cy="271.86" rx="0.4" ry="0.72"/><ellipse cx="775.19" cy="271.44" rx="0.4" ry="0.72"/><ellipse cx="776.85" cy="271" rx="0.4" ry="0.72"/><ellipse cx="778.5" cy="270.55" rx="0.4" ry="0.72"/><ellipse cx="780.15" cy="270.1" rx="0.4" ry="0.72"/><ellipse cx="781.79" cy="269.61" rx="0.4" ry="0.72"/><ellipse cx="783.42" cy="269.05" rx="0.4" ry="0.72"/><ellipse cx="785.05" cy="268.21" rx="0.4" ry="0.72"/><ellipse cx="786.67" cy="267.54" rx="0.4" ry="0.72"/><ellipse cx="788.28" cy="267.5" rx="0.4" ry="0.72"/><ellipse cx="789.88" cy="267.81" rx="0.4" ry="0.72"/><ellipse cx="791.48" cy="268.3" rx="0.4" ry="0.72"/><ellipse cx="793.07" cy="268.86" rx="0.4" ry="0.72"/><ellipse cx="794.66" cy="269.38" rx="0.4" ry="0.72"/><ellipse cx="796.24" cy="269.89" rx="0.4" ry="0.72"/><ellipse cx="797.81" cy="270.5" rx="0.4" ry="0.72"/><ellipse cx="799.37" cy="271.11" rx="0.4" ry="0.72"/><ellipse cx="800.93" cy="271.59" rx="0.4" ry="0.72"/><ellipse cx="802.48" cy="271.84" rx="0.4" ry="0.72"/><ellipse cx="804.03" cy="271.83" rx="0.4" ry="0.72"/><ellipse cx="805.57" cy="271.74" rx="0.4" ry="0.72"/><ellipse cx="807.1" cy="271.61" rx="0.4" ry="0.72"/><ellipse cx="808.63" cy="271.45" rx="0.4" ry="0.72"/><ellipse cx="810.15" cy="271.28" rx="0.4" ry="0.72"/><ellipse cx="811.66" cy="271.12" rx="0.4" ry="0.72"/><ellipse cx="813.17" cy="270.98" rx="0.4" ry="0.72"/><ellipse cx="814.67" cy="270.84" rx="0.4" ry="0.72"/><ellipse cx="816.16" cy="270.69" rx="0.4" ry="0.72"/><ellipse cx="817.65" cy="270.54" rx="0.4" ry="0.72"/><ellipse cx="819.13" cy="270.4" rx="0.4" ry="0.72"/><ellipse cx="820.61" cy="270.27" rx="0.4" ry="0.72"/><ellipse cx="822.08" cy="270.16" rx="0.4" ry="0.72"/><ellipse cx="823.54" cy="270.07" rx="0.4" ry="0.72"/><ellipse cx="825" cy="269.98" rx="0.4" ry="0.72"/><ellipse cx="826.45" cy="269.89" rx="0.4" ry="0.72"/><ellipse cx="827.9" cy="269.79" rx="0.4" ry="0.72"/><ellipse cx="829.34" cy="269.69" rx="0.4" ry="0.72"/><ellipse cx="830.77" cy="269.58" rx="0.4" ry="0.72"/><ellipse cx="832.2" cy="269.46" rx="0.4" ry="0.72"/><ellipse cx="833.62" cy="269.34" rx="0.4" ry="0.72"/><ellipse cx="835.03" cy="269.2" rx="0.4" ry="0.72"/><ellipse cx="836.44" cy="269.05" rx="0.4" ry="0.72"/><ellipse cx="837.85" cy="268.88" rx="0.4" ry="0.72"/><ellipse cx="839.25" cy="268.69" rx="0.4" ry="0.72"/><ellipse cx="840.64" cy="268.47" rx="0.4" ry="0.72"/><ellipse cx="842.02" cy="268.21" rx="0.4" ry="0.72"/><ellipse cx="843.4" cy="267.92" rx="0.4" ry="0.72"/><ellipse cx="844.78" cy="267.58" rx="0.4" ry="0.72"/><ellipse cx="846.15" cy="267.16" rx="0.4" ry="0.72"/><ellipse cx="847.51" cy="266.63" rx="0.4" ry="0.72"/><ellipse cx="848.87" cy="266.04" rx="0.4" ry="0.72"/><ellipse cx="850.22" cy="265.36" rx="0.4" ry="0.72"/><ellipse cx="851.3" cy="264.75" rx="0.4" ry="0.72"/>
</g>
<g fill="url(#bbf)">
<circle cx="635.5" cy="360.4" r="2.85"/><circle cx="637.74" cy="360.4" r="2.85"/><circle cx="639.98" cy="360.4" r="2.85"/><circle cx="642.21" cy="360.4" r="2.85"/><circle cx="644.42" cy="360.4" r="2.85"/><circle cx="646.63" cy="360.45" r="2.85"/><circle cx="648.83" cy="360.63" r="2.85"/><circle cx="651.02" cy="360.89" r="2.85"/><circle cx="653.2" cy="361.18" r="2.85"/><circle cx="655.37" cy="361.44" r="2.85"/><circle cx="657.53" cy="361.72" r="2.85"/><circle cx="659.68" cy="362.02" r="2.85"/><circle cx="661.82" cy="362.32" r="2.85"/><circle cx="663.96" cy="362.59" r="2.85"/><circle cx="666.08" cy="362.8" r="2.85"/><circle cx="668.2" cy="362.93" r="2.85"/><circle cx="670.31" cy="363.05" r="2.85"/><circle cx="672.41" cy="363.2" r="2.85"/><circle cx="674.5" cy="363.43" r="2.85"/><circle cx="676.58" cy="364.03" r="2.85"/><circle cx="678.65" cy="365.37" r="2.85"/><circle cx="680.72" cy="367.06" r="2.85"/><circle cx="682.77" cy="369.03" r="2.85"/><circle cx="684.82" cy="371.49" r="2.85"/><circle cx="686.86" cy="373.59" r="2.85"/><circle cx="688.89" cy="375.35" r="2.85"/><circle cx="690.91" cy="374.77" r="2.85"/><circle cx="692.92" cy="372.43" r="2.85"/><circle cx="694.92" cy="368.35" r="2.85"/><circle cx="696.92" cy="364.26" r="2.85"/><circle cx="698.91" cy="360.74" r="2.85"/><circle cx="700.89" cy="357.05" r="2.85"/><circle cx="702.86" cy="353.11" r="2.85"/><circle cx="704.82" cy="349.11" r="2.85"/><circle cx="706.78" cy="345.04" r="2.85"/><circle cx="708.72" cy="340.97" r="2.85"/><circle cx="710.66" cy="337.3" r="2.85"/><circle cx="712.59" cy="334.08" r="2.85"/><circle cx="714.51" cy="331.46" r="2.85"/><circle cx="716.43" cy="330.14" r="2.85"/><circle cx="718.33" cy="329.58" r="2.85"/><circle cx="720.23" cy="329.15" r="2.85"/><circle cx="722.12" cy="328.81" r="2.85"/><circle cx="724" cy="328.45" r="2.85"/><circle cx="725.88" cy="327.54" r="2.85"/><circle cx="727.74" cy="325.47" r="2.85"/><circle cx="729.6" cy="321.91" r="2.85"/><circle cx="731.45" cy="318.15" r="2.85"/><circle cx="733.3" cy="314.41" r="2.85"/><circle cx="735.13" cy="310.79" r="2.85"/><circle cx="736.96" cy="307.25" r="2.85"/><circle cx="738.78" cy="303.81" r="2.85"/><circle cx="740.59" cy="300.45" r="2.85"/><circle cx="742.4" cy="297.31" r="2.85"/><circle cx="744.19" cy="294.5" r="2.85"/><circle cx="745.98" cy="291.82" r="2.85"/><circle cx="747.77" cy="289.25" r="2.85"/><circle cx="749.54" cy="287.28" r="2.85"/><circle cx="751.31" cy="285.69" r="2.85"/><circle cx="753.07" cy="284.33" r="2.85"/><circle cx="754.82" cy="283.28" r="2.85"/><circle cx="756.57" cy="282.5" r="2.85"/><circle cx="758.31" cy="281.91" r="2.85"/><circle cx="760.04" cy="281.41" r="2.85"/><circle cx="761.76" cy="281.08" r="2.85"/><circle cx="763.48" cy="280.86" r="2.85"/><circle cx="765.19" cy="280.7" r="2.85"/><circle cx="766.89" cy="280.57" r="2.85"/><circle cx="768.58" cy="280.47" r="2.85"/><circle cx="770.27" cy="280.38" r="2.85"/><circle cx="771.95" cy="280.3" r="2.85"/><circle cx="773.63" cy="280.23" r="2.85"/><circle cx="775.29" cy="280.2" r="2.85"/><circle cx="776.95" cy="280.22" r="2.85"/><circle cx="778.6" cy="280.34" r="2.85"/><circle cx="780.25" cy="280.5" r="2.85"/><circle cx="781.89" cy="280.69" r="2.85"/><circle cx="783.52" cy="280.88" r="2.85"/><circle cx="785.15" cy="281.12" r="2.85"/><circle cx="786.77" cy="281.41" r="2.85"/><circle cx="788.38" cy="281.74" r="2.85"/><circle cx="789.98" cy="282.23" r="2.85"/><circle cx="791.58" cy="282.86" r="2.85"/><circle cx="793.17" cy="283.53" r="2.85"/><circle cx="794.76" cy="284.15" r="2.85"/><circle cx="796.34" cy="284.62" r="2.85"/><circle cx="797.91" cy="285.02" r="2.85"/><circle cx="799.47" cy="285.33" r="2.85"/><circle cx="801.03" cy="285.38" r="2.85"/><circle cx="802.58" cy="285.12" r="2.85"/><circle cx="804.13" cy="284.71" r="2.85"/><circle cx="805.67" cy="284.14" r="2.85"/><circle cx="807.2" cy="283.28" r="2.85"/><circle cx="808.73" cy="282.36" r="2.85"/><circle cx="810.25" cy="281.6" r="2.85"/><circle cx="811.76" cy="280.92" r="2.85"/><circle cx="813.27" cy="280.31" r="2.85"/><circle cx="814.77" cy="279.77" r="2.85"/><circle cx="816.26" cy="279.33" r="2.85"/><circle cx="817.75" cy="278.93" r="2.85"/><circle cx="819.23" cy="278.58" r="2.85"/><circle cx="820.71" cy="278.26" r="2.85"/><circle cx="822.18" cy="277.97" r="2.85"/><circle cx="823.64" cy="277.71" r="2.85"/><circle cx="825.1" cy="277.47" r="2.85"/><circle cx="826.55" cy="277.24" r="2.85"/><circle cx="828" cy="277.02" r="2.85"/><circle cx="829.44" cy="276.79" r="2.85"/><circle cx="830.87" cy="276.56" r="2.85"/><circle cx="832.3" cy="276.32" r="2.85"/><circle cx="833.72" cy="276.07" r="2.85"/><circle cx="835.13" cy="275.84" r="2.85"/><circle cx="836.54" cy="275.63" r="2.85"/><circle cx="837.95" cy="275.43" r="2.85"/><circle cx="839.35" cy="275.27" r="2.85"/><circle cx="840.74" cy="275.12" r="2.85"/><circle cx="842.12" cy="274.99" r="2.85"/><circle cx="843.5" cy="274.86" r="2.85"/><circle cx="844.88" cy="274.71" r="2.85"/><circle cx="846.25" cy="274.56" r="2.85"/><circle cx="847.61" cy="274.39" r="2.85"/><circle cx="848.97" cy="274.22" r="2.85"/><circle cx="850.32" cy="274.05" r="2.85"/><circle cx="851.4" cy="273.9" r="2.85"/>
</g>
<g fill="#dfeaf8">
<ellipse cx="635.4" cy="360.25" rx="0.4" ry="0.72"/><ellipse cx="637.64" cy="360.25" rx="0.4" ry="0.72"/><ellipse cx="639.88" cy="360.25" rx="0.4" ry="0.72"/><ellipse cx="642.11" cy="360.25" rx="0.4" ry="0.72"/><ellipse cx="644.32" cy="360.25" rx="0.4" ry="0.72"/><ellipse cx="646.53" cy="360.3" rx="0.4" ry="0.72"/><ellipse cx="648.73" cy="360.48" rx="0.4" ry="0.72"/><ellipse cx="650.92" cy="360.74" rx="0.4" ry="0.72"/><ellipse cx="653.1" cy="361.03" rx="0.4" ry="0.72"/><ellipse cx="655.27" cy="361.29" rx="0.4" ry="0.72"/><ellipse cx="657.43" cy="361.57" rx="0.4" ry="0.72"/><ellipse cx="659.58" cy="361.87" rx="0.4" ry="0.72"/><ellipse cx="661.72" cy="362.17" rx="0.4" ry="0.72"/><ellipse cx="663.86" cy="362.44" rx="0.4" ry="0.72"/><ellipse cx="665.98" cy="362.65" rx="0.4" ry="0.72"/><ellipse cx="668.1" cy="362.78" rx="0.4" ry="0.72"/><ellipse cx="670.21" cy="362.9" rx="0.4" ry="0.72"/><ellipse cx="672.31" cy="363.05" rx="0.4" ry="0.72"/><ellipse cx="674.4" cy="363.28" rx="0.4" ry="0.72"/><ellipse cx="676.48" cy="363.88" rx="0.4" ry="0.72"/><ellipse cx="678.55" cy="365.22" rx="0.4" ry="0.72"/><ellipse cx="680.62" cy="366.91" rx="0.4" ry="0.72"/><ellipse cx="682.67" cy="368.88" rx="0.4" ry="0.72"/><ellipse cx="684.72" cy="371.34" rx="0.4" ry="0.72"/><ellipse cx="686.76" cy="373.44" rx="0.4" ry="0.72"/><ellipse cx="688.79" cy="375.2" rx="0.4" ry="0.72"/><ellipse cx="690.81" cy="374.62" rx="0.4" ry="0.72"/><ellipse cx="692.82" cy="372.28" rx="0.4" ry="0.72"/><ellipse cx="694.82" cy="368.2" rx="0.4" ry="0.72"/><ellipse cx="696.82" cy="364.11" rx="0.4" ry="0.72"/><ellipse cx="698.81" cy="360.59" rx="0.4" ry="0.72"/><ellipse cx="700.79" cy="356.9" rx="0.4" ry="0.72"/><ellipse cx="702.76" cy="352.96" rx="0.4" ry="0.72"/><ellipse cx="704.72" cy="348.96" rx="0.4" ry="0.72"/><ellipse cx="706.68" cy="344.89" rx="0.4" ry="0.72"/><ellipse cx="708.62" cy="340.82" rx="0.4" ry="0.72"/><ellipse cx="710.56" cy="337.15" rx="0.4" ry="0.72"/><ellipse cx="712.49" cy="333.93" rx="0.4" ry="0.72"/><ellipse cx="714.41" cy="331.31" rx="0.4" ry="0.72"/><ellipse cx="716.33" cy="329.99" rx="0.4" ry="0.72"/><ellipse cx="718.23" cy="329.43" rx="0.4" ry="0.72"/><ellipse cx="720.13" cy="329" rx="0.4" ry="0.72"/><ellipse cx="722.02" cy="328.66" rx="0.4" ry="0.72"/><ellipse cx="723.9" cy="328.3" rx="0.4" ry="0.72"/><ellipse cx="725.78" cy="327.39" rx="0.4" ry="0.72"/><ellipse cx="727.64" cy="325.32" rx="0.4" ry="0.72"/><ellipse cx="729.5" cy="321.76" rx="0.4" ry="0.72"/><ellipse cx="731.35" cy="318" rx="0.4" ry="0.72"/><ellipse cx="733.2" cy="314.26" rx="0.4" ry="0.72"/><ellipse cx="735.03" cy="310.64" rx="0.4" ry="0.72"/><ellipse cx="736.86" cy="307.1" rx="0.4" ry="0.72"/><ellipse cx="738.68" cy="303.66" rx="0.4" ry="0.72"/><ellipse cx="740.49" cy="300.3" rx="0.4" ry="0.72"/><ellipse cx="742.3" cy="297.16" rx="0.4" ry="0.72"/><ellipse cx="744.09" cy="294.35" rx="0.4" ry="0.72"/><ellipse cx="745.88" cy="291.67" rx="0.4" ry="0.72"/><ellipse cx="747.67" cy="289.1" rx="0.4" ry="0.72"/><ellipse cx="749.44" cy="287.13" rx="0.4" ry="0.72"/><ellipse cx="751.21" cy="285.54" rx="0.4" ry="0.72"/><ellipse cx="752.97" cy="284.18" rx="0.4" ry="0.72"/><ellipse cx="754.72" cy="283.13" rx="0.4" ry="0.72"/><ellipse cx="756.47" cy="282.35" rx="0.4" ry="0.72"/><ellipse cx="758.21" cy="281.76" rx="0.4" ry="0.72"/><ellipse cx="759.94" cy="281.26" rx="0.4" ry="0.72"/><ellipse cx="761.66" cy="280.93" rx="0.4" ry="0.72"/><ellipse cx="763.38" cy="280.71" rx="0.4" ry="0.72"/><ellipse cx="765.09" cy="280.55" rx="0.4" ry="0.72"/><ellipse cx="766.79" cy="280.42" rx="0.4" ry="0.72"/><ellipse cx="768.48" cy="280.32" rx="0.4" ry="0.72"/><ellipse cx="770.17" cy="280.23" rx="0.4" ry="0.72"/><ellipse cx="771.85" cy="280.15" rx="0.4" ry="0.72"/><ellipse cx="773.53" cy="280.08" rx="0.4" ry="0.72"/><ellipse cx="775.19" cy="280.05" rx="0.4" ry="0.72"/><ellipse cx="776.85" cy="280.07" rx="0.4" ry="0.72"/><ellipse cx="778.5" cy="280.19" rx="0.4" ry="0.72"/><ellipse cx="780.15" cy="280.35" rx="0.4" ry="0.72"/><ellipse cx="781.79" cy="280.54" rx="0.4" ry="0.72"/><ellipse cx="783.42" cy="280.73" rx="0.4" ry="0.72"/><ellipse cx="785.05" cy="280.97" rx="0.4" ry="0.72"/><ellipse cx="786.67" cy="281.26" rx="0.4" ry="0.72"/><ellipse cx="788.28" cy="281.59" rx="0.4" ry="0.72"/><ellipse cx="789.88" cy="282.08" rx="0.4" ry="0.72"/><ellipse cx="791.48" cy="282.71" rx="0.4" ry="0.72"/><ellipse cx="793.07" cy="283.38" rx="0.4" ry="0.72"/><ellipse cx="794.66" cy="284" rx="0.4" ry="0.72"/><ellipse cx="796.24" cy="284.47" rx="0.4" ry="0.72"/><ellipse cx="797.81" cy="284.87" rx="0.4" ry="0.72"/><ellipse cx="799.37" cy="285.18" rx="0.4" ry="0.72"/><ellipse cx="800.93" cy="285.23" rx="0.4" ry="0.72"/><ellipse cx="802.48" cy="284.97" rx="0.4" ry="0.72"/><ellipse cx="804.03" cy="284.56" rx="0.4" ry="0.72"/><ellipse cx="805.57" cy="283.99" rx="0.4" ry="0.72"/><ellipse cx="807.1" cy="283.13" rx="0.4" ry="0.72"/><ellipse cx="808.63" cy="282.21" rx="0.4" ry="0.72"/><ellipse cx="810.15" cy="281.45" rx="0.4" ry="0.72"/><ellipse cx="811.66" cy="280.77" rx="0.4" ry="0.72"/><ellipse cx="813.17" cy="280.16" rx="0.4" ry="0.72"/><ellipse cx="814.67" cy="279.62" rx="0.4" ry="0.72"/><ellipse cx="816.16" cy="279.18" rx="0.4" ry="0.72"/><ellipse cx="817.65" cy="278.78" rx="0.4" ry="0.72"/><ellipse cx="819.13" cy="278.43" rx="0.4" ry="0.72"/><ellipse cx="820.61" cy="278.11" rx="0.4" ry="0.72"/><ellipse cx="822.08" cy="277.82" rx="0.4" ry="0.72"/><ellipse cx="823.54" cy="277.56" rx="0.4" ry="0.72"/><ellipse cx="825" cy="277.32" rx="0.4" ry="0.72"/><ellipse cx="826.45" cy="277.09" rx="0.4" ry="0.72"/><ellipse cx="827.9" cy="276.87" rx="0.4" ry="0.72"/><ellipse cx="829.34" cy="276.64" rx="0.4" ry="0.72"/><ellipse cx="830.77" cy="276.41" rx="0.4" ry="0.72"/><ellipse cx="832.2" cy="276.17" rx="0.4" ry="0.72"/><ellipse cx="833.62" cy="275.92" rx="0.4" ry="0.72"/><ellipse cx="835.03" cy="275.69" rx="0.4" ry="0.72"/><ellipse cx="836.44" cy="275.48" rx="0.4" ry="0.72"/><ellipse cx="837.85" cy="275.28" rx="0.4" ry="0.72"/><ellipse cx="839.25" cy="275.12" rx="0.4" ry="0.72"/><ellipse cx="840.64" cy="274.97" rx="0.4" ry="0.72"/><ellipse cx="842.02" cy="274.84" rx="0.4" ry="0.72"/><ellipse cx="843.4" cy="274.71" rx="0.4" ry="0.72"/><ellipse cx="844.78" cy="274.56" rx="0.4" ry="0.72"/><ellipse cx="846.15" cy="274.41" rx="0.4" ry="0.72"/><ellipse cx="847.51" cy="274.24" rx="0.4" ry="0.72"/><ellipse cx="848.87" cy="274.07" rx="0.4" ry="0.72"/><ellipse cx="850.22" cy="273.9" rx="0.4" ry="0.72"/><ellipse cx="851.3" cy="273.75" rx="0.4" ry="0.72"/>
</g>
</g>
<rect x="634.2" y="225.2" width="227.1" height="182.1" fill="none" stroke="#000" stroke-width="2.1"/>
<path d="M634.2 244.5h5M634.2 298.75h5M634.2 353h5" stroke="#000" stroke-width="1.7" fill="none"/>
<path d="M634.2 271.62h3.2M634.2 325.88h3.2M634.2 380.12h3.2" stroke="#000" stroke-width="1.7" fill="none"/>
<path d="M634.2 399.08h2.2M634.2 394.31h2.2M634.2 390.92h2.2M634.2 388.29h2.2M634.2 386.14h2.2M634.2 384.33h2.2M634.2 382.75h2.2M634.2 381.37h2.2M634.2 371.96h2.2M634.2 367.18h2.2M634.2 363.79h2.2M634.2 361.17h2.2M634.2 359.02h2.2M634.2 357.2h2.2M634.2 355.63h2.2M634.2 354.24h2.2M634.2 344.83h2.2M634.2 340.06h2.2M634.2 336.67h2.2M634.2 334.04h2.2M634.2 331.89h2.2M634.2 330.08h2.2M634.2 328.5h2.2M634.2 327.12h2.2M634.2 317.71h2.2M634.2 312.93h2.2M634.2 309.54h2.2M634.2 306.92h2.2M634.2 304.77h2.2M634.2 302.95h2.2M634.2 301.38h2.2M634.2 299.99h2.2M634.2 290.58h2.2M634.2 285.81h2.2M634.2 282.42h2.2M634.2 279.79h2.2M634.2 277.64h2.2M634.2 275.83h2.2M634.2 274.25h2.2M634.2 272.87h2.2M634.2 263.46h2.2M634.2 258.68h2.2M634.2 255.29h2.2M634.2 252.67h2.2M634.2 250.52h2.2M634.2 248.7h2.2M634.2 247.13h2.2M634.2 245.74h2.2M634.2 236.33h2.2M634.2 231.56h2.2M634.2 228.17h2.2" stroke="#000" stroke-width="0.8" fill="none"/>
<path d="M666.64 407.3v-4M731.53 407.3v-4M796.41 407.3v-4" stroke="#000" stroke-width="1.7" fill="none"/>
<path d="M699.09 407.3v-2.5M763.97 407.3v-2.5M828.86 407.3v-2.5" stroke="#000" stroke-width="1.7" fill="none"/>
<text x="588" y="233.7" font-size="16.8" text-anchor="start">(e)</text>
<text x="631.4" y="248.4" font-size="12" text-anchor="end">1E18</text>
<text x="631.4" y="302.65" font-size="12" text-anchor="end">1E16</text>
<text x="631.4" y="356.9" font-size="12" text-anchor="end">1E14</text>
<text x="631.4" y="408.15" font-size="12" text-anchor="end">1E12</text>
<text x="666.94" y="420.5" font-size="12" text-anchor="middle">0.2</text>
<text x="731.53" y="420.5" font-size="12" text-anchor="middle">0.3</text>
<text x="796.41" y="420.5" font-size="12" text-anchor="middle">0.4</text>
<text x="858.3" y="420.5" font-size="12" text-anchor="middle">0.5</text>
<text x="750.55" y="434.5" font-size="14" text-anchor="middle">Eω (eV)</text>
<text x="598.2" y="317.6" font-size="14.3" text-anchor="middle" transform="rotate(-90 598.2 317.6)">tODS (cm<tspan font-size="9" dy="-4.6">-3</tspan><tspan dy="4.6">eV</tspan><tspan font-size="9" dy="-4.6">-1</tspan><tspan dy="4.6">)</tspan></text>
<circle cx="653.8" cy="238.5" r="2.9" fill="url(#bbf)"/>
<text x="666.9" y="242.2" font-size="12.3" text-anchor="start">target-fresh</text>
<circle cx="653.8" cy="252.9" r="2.9" fill="url(#bba)"/>
<text x="666.9" y="256.6" font-size="12.3" text-anchor="start">target-aged</text>
</g>
</svg>
</body></html>
